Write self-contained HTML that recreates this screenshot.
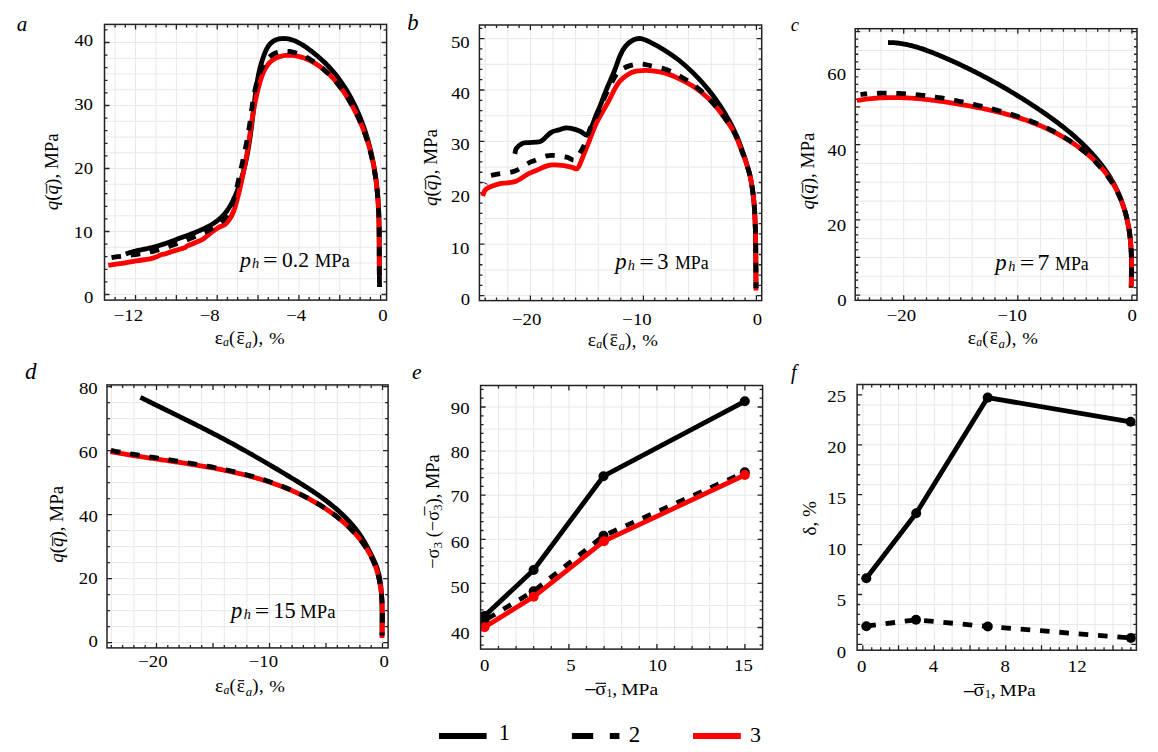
<!DOCTYPE html>
<html><head><meta charset="utf-8"><title>Figure</title><style>
html,body{margin:0;padding:0;background:#fff;}
svg{display:block;}
text{font-family:"Liberation Serif", "Times New Roman", serif;fill:#000;}
</style></head><body>
<svg width="1158" height="752" viewBox="0 0 1158 752">
<rect width="1158" height="752" fill="#fff"/>
<path d="M115.12 24.40V300.10M135.54 24.40V300.10M155.96 24.40V300.10M176.38 24.40V300.10M196.80 24.40V300.10M217.22 24.40V300.10M237.64 24.40V300.10M258.06 24.40V300.10M278.48 24.40V300.10M298.90 24.40V300.10M319.32 24.40V300.10M339.74 24.40V300.10M360.16 24.40V300.10M380.58 24.40V300.10M104.50 294.50H386.60M104.50 278.75H386.60M104.50 263.00H386.60M104.50 247.25H386.60M104.50 231.50H386.60M104.50 215.75H386.60M104.50 200.00H386.60M104.50 184.25H386.60M104.50 168.50H386.60M104.50 152.75H386.60M104.50 137.00H386.60M104.50 121.25H386.60M104.50 105.50H386.60M104.50 89.75H386.60M104.50 74.00H386.60M104.50 58.25H386.60M104.50 42.50H386.60M104.50 26.75H386.60" stroke="#e8e8e8" stroke-width="1" fill="none"/>
<path d="M115.12 300.10v-3.0M115.12 24.40v3.0M125.33 300.10v-3.0M125.33 24.40v3.0M135.54 300.10v-5.0M135.54 24.40v5.0M145.75 300.10v-3.0M145.75 24.40v3.0M155.96 300.10v-3.0M155.96 24.40v3.0M166.17 300.10v-3.0M166.17 24.40v3.0M176.38 300.10v-5.0M176.38 24.40v5.0M186.59 300.10v-3.0M186.59 24.40v3.0M196.80 300.10v-3.0M196.80 24.40v3.0M207.01 300.10v-3.0M207.01 24.40v3.0M217.22 300.10v-5.0M217.22 24.40v5.0M227.43 300.10v-3.0M227.43 24.40v3.0M237.64 300.10v-3.0M237.64 24.40v3.0M247.85 300.10v-3.0M247.85 24.40v3.0M258.06 300.10v-5.0M258.06 24.40v5.0M268.27 300.10v-3.0M268.27 24.40v3.0M278.48 300.10v-3.0M278.48 24.40v3.0M288.69 300.10v-3.0M288.69 24.40v3.0M298.90 300.10v-5.0M298.90 24.40v5.0M309.11 300.10v-3.0M309.11 24.40v3.0M319.32 300.10v-3.0M319.32 24.40v3.0M329.53 300.10v-3.0M329.53 24.40v3.0M339.74 300.10v-5.0M339.74 24.40v5.0M349.95 300.10v-3.0M349.95 24.40v3.0M360.16 300.10v-3.0M360.16 24.40v3.0M370.37 300.10v-3.0M370.37 24.40v3.0M380.58 300.10v-5.0M380.58 24.40v5.0M104.50 294.50h5.0M386.60 294.50h-5.0M104.50 281.90h3.0M386.60 281.90h-3.0M104.50 269.30h3.0M386.60 269.30h-3.0M104.50 256.70h3.0M386.60 256.70h-3.0M104.50 244.10h3.0M386.60 244.10h-3.0M104.50 231.50h5.0M386.60 231.50h-5.0M104.50 218.90h3.0M386.60 218.90h-3.0M104.50 206.30h3.0M386.60 206.30h-3.0M104.50 193.70h3.0M386.60 193.70h-3.0M104.50 181.10h3.0M386.60 181.10h-3.0M104.50 168.50h5.0M386.60 168.50h-5.0M104.50 155.90h3.0M386.60 155.90h-3.0M104.50 143.30h3.0M386.60 143.30h-3.0M104.50 130.70h3.0M386.60 130.70h-3.0M104.50 118.10h3.0M386.60 118.10h-3.0M104.50 105.50h5.0M386.60 105.50h-5.0M104.50 92.90h3.0M386.60 92.90h-3.0M104.50 80.30h3.0M386.60 80.30h-3.0M104.50 67.70h3.0M386.60 67.70h-3.0M104.50 55.10h3.0M386.60 55.10h-3.0M104.50 42.50h5.0M386.60 42.50h-5.0M104.50 29.90h3.0M386.60 29.90h-3.0" stroke="#222" stroke-width="1.3" fill="none"/>
<path d="M485.20 25.00V300.60M507.80 25.00V300.60M530.40 25.00V300.60M553.00 25.00V300.60M575.60 25.00V300.60M598.20 25.00V300.60M620.80 25.00V300.60M643.40 25.00V300.60M666.00 25.00V300.60M688.60 25.00V300.60M711.20 25.00V300.60M733.80 25.00V300.60M756.40 25.00V300.60M479.40 295.60H761.70M479.40 269.90H761.70M479.40 244.20H761.70M479.40 218.50H761.70M479.40 192.80H761.70M479.40 167.10H761.70M479.40 141.40H761.70M479.40 115.70H761.70M479.40 90.00H761.70M479.40 64.30H761.70M479.40 38.60H761.70" stroke="#e8e8e8" stroke-width="1" fill="none"/>
<path d="M485.20 300.60v-3.0M485.20 25.00v3.0M496.50 300.60v-3.0M496.50 25.00v3.0M507.80 300.60v-3.0M507.80 25.00v3.0M519.10 300.60v-3.0M519.10 25.00v3.0M530.40 300.60v-5.0M530.40 25.00v5.0M541.70 300.60v-3.0M541.70 25.00v3.0M553.00 300.60v-3.0M553.00 25.00v3.0M564.30 300.60v-3.0M564.30 25.00v3.0M575.60 300.60v-3.0M575.60 25.00v3.0M586.90 300.60v-3.0M586.90 25.00v3.0M598.20 300.60v-3.0M598.20 25.00v3.0M609.50 300.60v-3.0M609.50 25.00v3.0M620.80 300.60v-3.0M620.80 25.00v3.0M632.10 300.60v-3.0M632.10 25.00v3.0M643.40 300.60v-5.0M643.40 25.00v5.0M654.70 300.60v-3.0M654.70 25.00v3.0M666.00 300.60v-3.0M666.00 25.00v3.0M677.30 300.60v-3.0M677.30 25.00v3.0M688.60 300.60v-3.0M688.60 25.00v3.0M699.90 300.60v-3.0M699.90 25.00v3.0M711.20 300.60v-3.0M711.20 25.00v3.0M722.50 300.60v-3.0M722.50 25.00v3.0M733.80 300.60v-3.0M733.80 25.00v3.0M745.10 300.60v-3.0M745.10 25.00v3.0M756.40 300.60v-5.0M756.40 25.00v5.0M479.40 295.60h5.0M761.70 295.60h-5.0M479.40 285.32h3.0M761.70 285.32h-3.0M479.40 275.04h3.0M761.70 275.04h-3.0M479.40 264.76h3.0M761.70 264.76h-3.0M479.40 254.48h3.0M761.70 254.48h-3.0M479.40 244.20h5.0M761.70 244.20h-5.0M479.40 233.92h3.0M761.70 233.92h-3.0M479.40 223.64h3.0M761.70 223.64h-3.0M479.40 213.36h3.0M761.70 213.36h-3.0M479.40 203.08h3.0M761.70 203.08h-3.0M479.40 192.80h5.0M761.70 192.80h-5.0M479.40 182.52h3.0M761.70 182.52h-3.0M479.40 172.24h3.0M761.70 172.24h-3.0M479.40 161.96h3.0M761.70 161.96h-3.0M479.40 151.68h3.0M761.70 151.68h-3.0M479.40 141.40h5.0M761.70 141.40h-5.0M479.40 131.12h3.0M761.70 131.12h-3.0M479.40 120.84h3.0M761.70 120.84h-3.0M479.40 110.56h3.0M761.70 110.56h-3.0M479.40 100.28h3.0M761.70 100.28h-3.0M479.40 90.00h5.0M761.70 90.00h-5.0M479.40 79.72h3.0M761.70 79.72h-3.0M479.40 69.44h3.0M761.70 69.44h-3.0M479.40 59.16h3.0M761.70 59.16h-3.0M479.40 48.88h3.0M761.70 48.88h-3.0M479.40 38.60h5.0M761.70 38.60h-5.0M479.40 28.32h3.0M761.70 28.32h-3.0" stroke="#222" stroke-width="1.3" fill="none"/>
<path d="M858.06 28.70V300.30M880.88 28.70V300.30M903.70 28.70V300.30M926.52 28.70V300.30M949.34 28.70V300.30M972.16 28.70V300.30M994.98 28.70V300.30M1017.80 28.70V300.30M1040.62 28.70V300.30M1063.44 28.70V300.30M1086.26 28.70V300.30M1109.08 28.70V300.30M1131.90 28.70V300.30M855.20 295.10H1137.00M855.20 276.29H1137.00M855.20 257.47H1137.00M855.20 238.66H1137.00M855.20 219.84H1137.00M855.20 201.03H1137.00M855.20 182.21H1137.00M855.20 163.40H1137.00M855.20 144.58H1137.00M855.20 125.77H1137.00M855.20 106.95H1137.00M855.20 88.14H1137.00M855.20 69.32H1137.00M855.20 50.51H1137.00M855.20 31.69H1137.00" stroke="#e8e8e8" stroke-width="1" fill="none"/>
<path d="M858.06 300.30v-3.0M858.06 28.70v3.0M869.47 300.30v-3.0M869.47 28.70v3.0M880.88 300.30v-3.0M880.88 28.70v3.0M892.29 300.30v-3.0M892.29 28.70v3.0M903.70 300.30v-5.0M903.70 28.70v5.0M915.11 300.30v-3.0M915.11 28.70v3.0M926.52 300.30v-3.0M926.52 28.70v3.0M937.93 300.30v-3.0M937.93 28.70v3.0M949.34 300.30v-3.0M949.34 28.70v3.0M960.75 300.30v-3.0M960.75 28.70v3.0M972.16 300.30v-3.0M972.16 28.70v3.0M983.57 300.30v-3.0M983.57 28.70v3.0M994.98 300.30v-3.0M994.98 28.70v3.0M1006.39 300.30v-3.0M1006.39 28.70v3.0M1017.80 300.30v-5.0M1017.80 28.70v5.0M1029.21 300.30v-3.0M1029.21 28.70v3.0M1040.62 300.30v-3.0M1040.62 28.70v3.0M1052.03 300.30v-3.0M1052.03 28.70v3.0M1063.44 300.30v-3.0M1063.44 28.70v3.0M1074.85 300.30v-3.0M1074.85 28.70v3.0M1086.26 300.30v-3.0M1086.26 28.70v3.0M1097.67 300.30v-3.0M1097.67 28.70v3.0M1109.08 300.30v-3.0M1109.08 28.70v3.0M1120.49 300.30v-3.0M1120.49 28.70v3.0M1131.90 300.30v-5.0M1131.90 28.70v5.0M855.20 295.10h5.0M1137.00 295.10h-5.0M855.20 287.57h3.0M1137.00 287.57h-3.0M855.20 280.05h3.0M1137.00 280.05h-3.0M855.20 272.52h3.0M1137.00 272.52h-3.0M855.20 265.00h3.0M1137.00 265.00h-3.0M855.20 257.47h5.0M1137.00 257.47h-5.0M855.20 249.94h3.0M1137.00 249.94h-3.0M855.20 242.42h3.0M1137.00 242.42h-3.0M855.20 234.89h3.0M1137.00 234.89h-3.0M855.20 227.37h3.0M1137.00 227.37h-3.0M855.20 219.84h5.0M1137.00 219.84h-5.0M855.20 212.31h3.0M1137.00 212.31h-3.0M855.20 204.79h3.0M1137.00 204.79h-3.0M855.20 197.26h3.0M1137.00 197.26h-3.0M855.20 189.74h3.0M1137.00 189.74h-3.0M855.20 182.21h5.0M1137.00 182.21h-5.0M855.20 174.68h3.0M1137.00 174.68h-3.0M855.20 167.16h3.0M1137.00 167.16h-3.0M855.20 159.63h3.0M1137.00 159.63h-3.0M855.20 152.11h3.0M1137.00 152.11h-3.0M855.20 144.58h5.0M1137.00 144.58h-5.0M855.20 137.05h3.0M1137.00 137.05h-3.0M855.20 129.53h3.0M1137.00 129.53h-3.0M855.20 122.00h3.0M1137.00 122.00h-3.0M855.20 114.48h3.0M1137.00 114.48h-3.0M855.20 106.95h5.0M1137.00 106.95h-5.0M855.20 99.42h3.0M1137.00 99.42h-3.0M855.20 91.90h3.0M1137.00 91.90h-3.0M855.20 84.37h3.0M1137.00 84.37h-3.0M855.20 76.85h3.0M1137.00 76.85h-3.0M855.20 69.32h5.0M1137.00 69.32h-5.0M855.20 61.79h3.0M1137.00 61.79h-3.0M855.20 54.27h3.0M1137.00 54.27h-3.0M855.20 46.74h3.0M1137.00 46.74h-3.0M855.20 39.22h3.0M1137.00 39.22h-3.0M855.20 31.69h5.0M1137.00 31.69h-5.0" stroke="#222" stroke-width="1.3" fill="none"/>
<path d="M111.30 384.90V647.90M133.90 384.90V647.90M156.50 384.90V647.90M179.10 384.90V647.90M201.70 384.90V647.90M224.30 384.90V647.90M246.90 384.90V647.90M269.50 384.90V647.90M292.10 384.90V647.90M314.70 384.90V647.90M337.30 384.90V647.90M359.90 384.90V647.90M382.50 384.90V647.90M107.00 642.60H388.10M107.00 626.60H388.10M107.00 610.60H388.10M107.00 594.60H388.10M107.00 578.60H388.10M107.00 562.60H388.10M107.00 546.60H388.10M107.00 530.60H388.10M107.00 514.60H388.10M107.00 498.60H388.10M107.00 482.60H388.10M107.00 466.60H388.10M107.00 450.60H388.10M107.00 434.60H388.10M107.00 418.60H388.10M107.00 402.60H388.10M107.00 386.60H388.10" stroke="#e8e8e8" stroke-width="1" fill="none"/>
<path d="M111.30 647.90v-3.0M111.30 384.90v3.0M122.60 647.90v-3.0M122.60 384.90v3.0M133.90 647.90v-3.0M133.90 384.90v3.0M145.20 647.90v-3.0M145.20 384.90v3.0M156.50 647.90v-5.0M156.50 384.90v5.0M167.80 647.90v-3.0M167.80 384.90v3.0M179.10 647.90v-3.0M179.10 384.90v3.0M190.40 647.90v-3.0M190.40 384.90v3.0M201.70 647.90v-3.0M201.70 384.90v3.0M213.00 647.90v-5.0M213.00 384.90v5.0M224.30 647.90v-3.0M224.30 384.90v3.0M235.60 647.90v-3.0M235.60 384.90v3.0M246.90 647.90v-3.0M246.90 384.90v3.0M258.20 647.90v-3.0M258.20 384.90v3.0M269.50 647.90v-5.0M269.50 384.90v5.0M280.80 647.90v-3.0M280.80 384.90v3.0M292.10 647.90v-3.0M292.10 384.90v3.0M303.40 647.90v-3.0M303.40 384.90v3.0M314.70 647.90v-3.0M314.70 384.90v3.0M326.00 647.90v-5.0M326.00 384.90v5.0M337.30 647.90v-3.0M337.30 384.90v3.0M348.60 647.90v-3.0M348.60 384.90v3.0M359.90 647.90v-3.0M359.90 384.90v3.0M371.20 647.90v-3.0M371.20 384.90v3.0M382.50 647.90v-5.0M382.50 384.90v5.0M107.00 642.60h5.0M388.10 642.60h-5.0M107.00 626.60h3.0M388.10 626.60h-3.0M107.00 610.60h3.0M388.10 610.60h-3.0M107.00 594.60h3.0M388.10 594.60h-3.0M107.00 578.60h5.0M388.10 578.60h-5.0M107.00 562.60h3.0M388.10 562.60h-3.0M107.00 546.60h3.0M388.10 546.60h-3.0M107.00 530.60h3.0M388.10 530.60h-3.0M107.00 514.60h5.0M388.10 514.60h-5.0M107.00 498.60h3.0M388.10 498.60h-3.0M107.00 482.60h3.0M388.10 482.60h-3.0M107.00 466.60h3.0M388.10 466.60h-3.0M107.00 450.60h5.0M388.10 450.60h-5.0M107.00 434.60h3.0M388.10 434.60h-3.0M107.00 418.60h3.0M388.10 418.60h-3.0M107.00 402.60h3.0M388.10 402.60h-3.0M107.00 386.60h5.0M388.10 386.60h-5.0" stroke="#222" stroke-width="1.3" fill="none"/>
<path d="M498.50 385.50V649.10M516.10 385.50V649.10M533.70 385.50V649.10M551.30 385.50V649.10M568.90 385.50V649.10M586.50 385.50V649.10M604.10 385.50V649.10M621.70 385.50V649.10M639.30 385.50V649.10M656.90 385.50V649.10M674.50 385.50V649.10M692.10 385.50V649.10M709.70 385.50V649.10M727.30 385.50V649.10M744.90 385.50V649.10M480.60 627.50H762.60M480.60 605.45H762.60M480.60 583.40H762.60M480.60 561.35H762.60M480.60 539.30H762.60M480.60 517.25H762.60M480.60 495.20H762.60M480.60 473.15H762.60M480.60 451.10H762.60M480.60 429.05H762.60M480.60 407.00H762.60" stroke="#e8e8e8" stroke-width="1" fill="none"/>
<path d="M498.50 649.10v-3.0M498.50 385.50v3.0M516.10 649.10v-3.0M516.10 385.50v3.0M533.70 649.10v-3.0M533.70 385.50v3.0M551.30 649.10v-3.0M551.30 385.50v3.0M568.90 649.10v-5.0M568.90 385.50v5.0M586.50 649.10v-3.0M586.50 385.50v3.0M604.10 649.10v-3.0M604.10 385.50v3.0M621.70 649.10v-3.0M621.70 385.50v3.0M639.30 649.10v-3.0M639.30 385.50v3.0M656.90 649.10v-5.0M656.90 385.50v5.0M674.50 649.10v-3.0M674.50 385.50v3.0M692.10 649.10v-3.0M692.10 385.50v3.0M709.70 649.10v-3.0M709.70 385.50v3.0M727.30 649.10v-3.0M727.30 385.50v3.0M744.90 649.10v-5.0M744.90 385.50v5.0M480.60 645.14h3.0M762.60 645.14h-3.0M480.60 636.32h3.0M762.60 636.32h-3.0M480.60 627.50h5.0M762.60 627.50h-5.0M480.60 618.68h3.0M762.60 618.68h-3.0M480.60 609.86h3.0M762.60 609.86h-3.0M480.60 601.04h3.0M762.60 601.04h-3.0M480.60 592.22h3.0M762.60 592.22h-3.0M480.60 583.40h5.0M762.60 583.40h-5.0M480.60 574.58h3.0M762.60 574.58h-3.0M480.60 565.76h3.0M762.60 565.76h-3.0M480.60 556.94h3.0M762.60 556.94h-3.0M480.60 548.12h3.0M762.60 548.12h-3.0M480.60 539.30h5.0M762.60 539.30h-5.0M480.60 530.48h3.0M762.60 530.48h-3.0M480.60 521.66h3.0M762.60 521.66h-3.0M480.60 512.84h3.0M762.60 512.84h-3.0M480.60 504.02h3.0M762.60 504.02h-3.0M480.60 495.20h5.0M762.60 495.20h-5.0M480.60 486.38h3.0M762.60 486.38h-3.0M480.60 477.56h3.0M762.60 477.56h-3.0M480.60 468.74h3.0M762.60 468.74h-3.0M480.60 459.92h3.0M762.60 459.92h-3.0M480.60 451.10h5.0M762.60 451.10h-5.0M480.60 442.28h3.0M762.60 442.28h-3.0M480.60 433.46h3.0M762.60 433.46h-3.0M480.60 424.64h3.0M762.60 424.64h-3.0M480.60 415.82h3.0M762.60 415.82h-3.0M480.60 407.00h5.0M762.60 407.00h-5.0M480.60 398.18h3.0M762.60 398.18h-3.0M480.60 389.36h3.0M762.60 389.36h-3.0" stroke="#222" stroke-width="1.3" fill="none"/>
<path d="M862.80 384.50V650.20M880.67 384.50V650.20M898.54 384.50V650.20M916.41 384.50V650.20M934.28 384.50V650.20M952.15 384.50V650.20M970.02 384.50V650.20M987.89 384.50V650.20M1005.76 384.50V650.20M1023.63 384.50V650.20M1041.50 384.50V650.20M1059.37 384.50V650.20M1077.24 384.50V650.20M1095.11 384.50V650.20M1112.98 384.50V650.20M1130.85 384.50V650.20M857.10 644.40H1136.40M857.10 624.44H1136.40M857.10 604.48H1136.40M857.10 584.52H1136.40M857.10 564.56H1136.40M857.10 544.60H1136.40M857.10 524.64H1136.40M857.10 504.68H1136.40M857.10 484.72H1136.40M857.10 464.76H1136.40M857.10 444.80H1136.40M857.10 424.84H1136.40M857.10 404.88H1136.40" stroke="#e8e8e8" stroke-width="1" fill="none"/>
<path d="M862.80 650.20v-5.0M862.80 384.50v5.0M871.73 650.20v-3.0M871.73 384.50v3.0M880.67 650.20v-3.0M880.67 384.50v3.0M889.60 650.20v-3.0M889.60 384.50v3.0M898.54 650.20v-5.0M898.54 384.50v5.0M907.47 650.20v-3.0M907.47 384.50v3.0M916.41 650.20v-3.0M916.41 384.50v3.0M925.34 650.20v-3.0M925.34 384.50v3.0M934.28 650.20v-5.0M934.28 384.50v5.0M943.21 650.20v-3.0M943.21 384.50v3.0M952.15 650.20v-3.0M952.15 384.50v3.0M961.08 650.20v-3.0M961.08 384.50v3.0M970.02 650.20v-5.0M970.02 384.50v5.0M978.95 650.20v-3.0M978.95 384.50v3.0M987.89 650.20v-3.0M987.89 384.50v3.0M996.82 650.20v-3.0M996.82 384.50v3.0M1005.76 650.20v-5.0M1005.76 384.50v5.0M1014.69 650.20v-3.0M1014.69 384.50v3.0M1023.63 650.20v-3.0M1023.63 384.50v3.0M1032.57 650.20v-3.0M1032.57 384.50v3.0M1041.50 650.20v-5.0M1041.50 384.50v5.0M1050.43 650.20v-3.0M1050.43 384.50v3.0M1059.37 650.20v-3.0M1059.37 384.50v3.0M1068.31 650.20v-3.0M1068.31 384.50v3.0M1077.24 650.20v-5.0M1077.24 384.50v5.0M1086.17 650.20v-3.0M1086.17 384.50v3.0M1095.11 650.20v-3.0M1095.11 384.50v3.0M1104.05 650.20v-3.0M1104.05 384.50v3.0M1112.98 650.20v-5.0M1112.98 384.50v5.0M1121.91 650.20v-3.0M1121.91 384.50v3.0M1130.85 650.20v-3.0M1130.85 384.50v3.0M857.10 644.40h5.0M1136.40 644.40h-5.0M857.10 634.42h3.0M1136.40 634.42h-3.0M857.10 624.44h3.0M1136.40 624.44h-3.0M857.10 614.46h3.0M1136.40 614.46h-3.0M857.10 604.48h3.0M1136.40 604.48h-3.0M857.10 594.50h5.0M1136.40 594.50h-5.0M857.10 584.52h3.0M1136.40 584.52h-3.0M857.10 574.54h3.0M1136.40 574.54h-3.0M857.10 564.56h3.0M1136.40 564.56h-3.0M857.10 554.58h3.0M1136.40 554.58h-3.0M857.10 544.60h5.0M1136.40 544.60h-5.0M857.10 534.62h3.0M1136.40 534.62h-3.0M857.10 524.64h3.0M1136.40 524.64h-3.0M857.10 514.66h3.0M1136.40 514.66h-3.0M857.10 504.68h3.0M1136.40 504.68h-3.0M857.10 494.70h5.0M1136.40 494.70h-5.0M857.10 484.72h3.0M1136.40 484.72h-3.0M857.10 474.74h3.0M1136.40 474.74h-3.0M857.10 464.76h3.0M1136.40 464.76h-3.0M857.10 454.78h3.0M1136.40 454.78h-3.0M857.10 444.80h5.0M1136.40 444.80h-5.0M857.10 434.82h3.0M1136.40 434.82h-3.0M857.10 424.84h3.0M1136.40 424.84h-3.0M857.10 414.86h3.0M1136.40 414.86h-3.0M857.10 404.88h3.0M1136.40 404.88h-3.0M857.10 394.90h5.0M1136.40 394.90h-5.0" stroke="#222" stroke-width="1.3" fill="none"/>
<text transform="translate(74.50,45.95) scale(1.060,1)" font-size="17.70">40</text>
<text transform="translate(74.23,109.90) scale(1.060,1)" font-size="17.70">30</text>
<text transform="translate(74.26,174.10) scale(1.060,1)" font-size="17.70">20</text>
<text transform="translate(73.85,238.05) scale(1.060,1)" font-size="17.70">10</text>
<text transform="translate(83.91,302.95) scale(1.060,1)" font-size="17.70">0</text>
<text transform="translate(113.73,321.06) scale(1.060,1)" font-size="17.70">−12</text>
<text transform="translate(199.71,321.00) scale(1.060,1)" font-size="17.70">−8</text>
<text transform="translate(286.20,321.02) scale(1.060,1)" font-size="17.70">−4</text>
<text transform="translate(378.31,321.00) scale(1.060,1)" font-size="17.70">0</text>
<text transform="translate(450.88,47.95) scale(1.060,1)" font-size="17.70">50</text>
<text transform="translate(451.25,99.15) scale(1.060,1)" font-size="17.70">40</text>
<text transform="translate(450.98,150.35) scale(1.060,1)" font-size="17.70">30</text>
<text transform="translate(451.01,202.40) scale(1.060,1)" font-size="17.70">20</text>
<text transform="translate(450.60,253.70) scale(1.060,1)" font-size="17.70">10</text>
<text transform="translate(460.71,304.90) scale(1.060,1)" font-size="17.70">0</text>
<text transform="translate(512.02,324.50) scale(1.060,1)" font-size="17.70">−20</text>
<text transform="translate(622.37,324.50) scale(1.060,1)" font-size="17.70">−10</text>
<text transform="translate(752.86,324.50) scale(1.060,1)" font-size="17.70">0</text>
<text transform="translate(827.37,79.95) scale(1.060,1)" font-size="17.70">60</text>
<text transform="translate(827.60,155.80) scale(1.060,1)" font-size="17.70">40</text>
<text transform="translate(827.36,230.60) scale(1.060,1)" font-size="17.70">20</text>
<text transform="translate(837.16,305.80) scale(1.060,1)" font-size="17.70">0</text>
<text transform="translate(886.77,321.40) scale(1.060,1)" font-size="17.70">−20</text>
<text transform="translate(997.52,321.40) scale(1.060,1)" font-size="17.70">−10</text>
<text transform="translate(1127.56,321.40) scale(1.060,1)" font-size="17.70">0</text>
<text transform="translate(78.92,394.40) scale(1.060,1)" font-size="17.70">80</text>
<text transform="translate(78.87,457.70) scale(1.060,1)" font-size="17.70">60</text>
<text transform="translate(79.10,521.60) scale(1.060,1)" font-size="17.70">40</text>
<text transform="translate(78.86,584.35) scale(1.060,1)" font-size="17.70">20</text>
<text transform="translate(88.51,647.05) scale(1.060,1)" font-size="17.70">0</text>
<text transform="translate(138.22,667.40) scale(1.060,1)" font-size="17.70">−20</text>
<text transform="translate(248.72,667.40) scale(1.060,1)" font-size="17.70">−10</text>
<text transform="translate(379.46,667.40) scale(1.060,1)" font-size="17.70">0</text>
<text transform="translate(450.78,414.20) scale(1.060,1)" font-size="17.70">90</text>
<text transform="translate(450.72,457.80) scale(1.060,1)" font-size="17.70">80</text>
<text transform="translate(450.46,502.45) scale(1.060,1)" font-size="17.70">70</text>
<text transform="translate(450.67,547.80) scale(1.060,1)" font-size="17.70">60</text>
<text transform="translate(450.53,592.80) scale(1.060,1)" font-size="17.70">50</text>
<text transform="translate(450.90,638.60) scale(1.060,1)" font-size="17.70">40</text>
<text transform="translate(480.11,670.60) scale(1.060,1)" font-size="17.70">0</text>
<text transform="translate(566.18,670.51) scale(1.060,1)" font-size="17.70">5</text>
<text transform="translate(648.20,670.60) scale(1.060,1)" font-size="17.70">10</text>
<text transform="translate(734.11,670.55) scale(1.060,1)" font-size="17.70">15</text>
<text transform="translate(827.27,402.12) scale(1.060,1)" font-size="17.70">25</text>
<text transform="translate(827.26,453.20) scale(1.060,1)" font-size="17.70">20</text>
<text transform="translate(827.36,503.65) scale(1.060,1)" font-size="17.70">15</text>
<text transform="translate(827.35,555.20) scale(1.060,1)" font-size="17.70">10</text>
<text transform="translate(836.83,606.16) scale(1.060,1)" font-size="17.70">5</text>
<text transform="translate(836.81,657.60) scale(1.060,1)" font-size="17.70">0</text>
<text transform="translate(856.96,671.90) scale(1.060,1)" font-size="17.70">0</text>
<text transform="translate(928.83,671.92) scale(1.060,1)" font-size="17.70">4</text>
<text transform="translate(1000.61,671.90) scale(1.060,1)" font-size="17.70">8</text>
<text transform="translate(1067.81,671.96) scale(1.060,1)" font-size="17.70">12</text>
<clipPath id="ca"><rect x="104.50" y="24.40" width="282.10" height="275.70"/></clipPath>
<clipPath id="cb"><rect x="479.40" y="25.00" width="282.30" height="275.60"/></clipPath>
<clipPath id="cc"><rect x="855.20" y="28.70" width="281.80" height="271.60"/></clipPath>
<clipPath id="cd"><rect x="107.00" y="384.90" width="281.10" height="263.00"/></clipPath>
<clipPath id="ce"><rect x="480.60" y="385.50" width="282.00" height="263.60"/></clipPath>
<clipPath id="cf"><rect x="857.10" y="384.50" width="279.30" height="265.70"/></clipPath>
<path d="M125.76 254.09L127.09 253.57L128.45 253.08L129.83 252.63L131.24 252.20L132.67 251.80L134.12 251.41L135.58 251.05L137.06 250.70L138.55 250.37L140.05 250.05L141.55 249.73L143.06 249.42L144.57 249.11L146.08 248.80L147.59 248.48L149.09 248.16L150.59 247.82L152.07 247.48L153.54 247.12L154.99 246.74L156.43 246.34L157.86 245.93L159.28 245.51L160.69 245.07L162.09 244.62L163.49 244.15L164.88 243.68L166.26 243.20L167.64 242.70L169.03 242.21L170.41 241.70L171.79 241.19L173.18 240.67L174.57 240.15L175.96 239.63L177.36 239.11L178.77 238.58L180.19 238.06L181.62 237.53L183.05 237.01L184.50 236.48L185.94 235.96L187.40 235.42L188.85 234.89L190.31 234.34L191.76 233.79L193.21 233.23L194.66 232.67L196.11 232.09L197.55 231.50L198.98 230.90L200.41 230.28L201.82 229.65L203.22 229.01L204.61 228.35L205.99 227.67L207.34 226.97L208.69 226.25L210.01 225.51L211.31 224.75L212.59 223.96L213.85 223.15L215.09 222.32L216.30 221.45L217.48 220.57L218.63 219.65L219.76 218.70L220.85 217.72L221.91 216.71L222.94 215.67L223.93 214.59L224.88 213.49L225.81 212.35L226.70 211.18L227.57 209.99L228.40 208.77L229.21 207.53L229.99 206.26L230.74 204.98L231.47 203.67L232.18 202.35L232.86 201.00L233.52 199.65L234.16 198.28L234.78 196.90L235.38 195.51L235.96 194.11L236.53 192.70L237.08 191.28L237.62 189.86L238.15 188.44L238.66 187.02L239.16 185.59L239.65 184.16L240.12 182.72L240.59 181.29L241.04 179.85L241.48 178.40L241.91 176.96L242.32 175.51L242.73 174.06L243.13 172.61L243.51 171.15L243.89 169.70L244.25 168.24L244.61 166.77L244.96 165.31L245.30 163.84L245.62 162.37L245.95 160.90L246.26 159.43L246.56 157.96L246.86 156.48L247.15 155.01L247.43 153.53L247.70 152.05L247.97 150.56L248.23 149.08L248.49 147.60L248.74 146.11L248.98 144.62L249.21 143.13L249.45 141.65L249.67 140.15L249.89 138.66L250.11 137.17L250.32 135.68L250.53 134.18L250.73 132.69L250.93 131.19L251.13 129.70L251.32 128.20L251.51 126.70L251.70 125.21L251.89 123.71L252.07 122.21L252.25 120.71L252.43 119.22L252.61 117.72L252.78 116.22L252.96 114.72L253.13 113.22L253.31 111.73L253.48 110.23L253.65 108.73L253.83 107.24L254.00 105.74L254.18 104.24L254.35 102.75L254.53 101.25L254.71 99.76L254.89 98.27L255.07 96.78L255.25 95.28L255.44 93.79L255.64 92.30L255.83 90.82L256.04 89.33L256.25 87.84L256.47 86.36L256.69 84.87L256.93 83.39L257.17 81.91L257.42 80.43L257.68 78.95L257.96 77.47L258.25 76.00L258.54 74.52L258.86 73.05L259.18 71.58L259.52 70.11L259.88 68.64L260.25 67.17L260.64 65.70L261.04 64.24L261.47 62.78L261.91 61.32L262.37 59.86L262.85 58.40L263.36 56.95L263.88 55.49L264.43 54.04L265.00 52.61L265.61 51.19L266.26 49.80L266.96 48.46L267.70 47.16L268.51 45.93L269.38 44.76L270.32 43.67L271.33 42.67L272.43 41.77L273.62 40.97L274.89 40.29L276.25 39.73L277.68 39.28L279.15 38.94L280.65 38.70L282.16 38.56L283.66 38.51L285.14 38.56L286.62 38.69L288.08 38.90L289.52 39.19L290.96 39.55L292.38 39.98L293.78 40.48L295.18 41.03L296.56 41.64L297.92 42.30L299.28 43.01L300.62 43.76L301.94 44.55L303.26 45.37L304.56 46.22L305.84 47.09L307.12 47.99L308.38 48.90L309.62 49.82L310.86 50.75L312.08 51.69L313.29 52.63L314.48 53.58L315.66 54.54L316.83 55.50L317.98 56.48L319.12 57.46L320.25 58.45L321.37 59.45L322.47 60.46L323.56 61.48L324.64 62.51L325.70 63.55L326.75 64.60L327.79 65.66L328.82 66.74L329.83 67.83L330.83 68.93L331.82 70.04L332.80 71.16L333.76 72.30L334.71 73.44L335.65 74.60L336.58 75.77L337.49 76.95L338.39 78.14L339.28 79.35L340.16 80.56L341.03 81.78L341.88 83.01L342.73 84.25L343.56 85.50L344.38 86.76L345.18 88.03L345.98 89.31L346.77 90.59L347.54 91.89L348.30 93.19L349.05 94.50L349.79 95.81L350.52 97.13L351.24 98.46L351.95 99.80L352.64 101.15L353.33 102.49L354.00 103.85L354.67 105.21L355.32 106.58L355.96 107.95L356.59 109.33L357.22 110.71L357.83 112.10L358.43 113.49L359.02 114.88L359.60 116.28L360.17 117.69L360.73 119.09L361.28 120.50L361.82 121.91L362.35 123.33L362.87 124.75L363.38 126.17L363.88 127.59L364.38 129.02L364.86 130.44L365.33 131.87L365.79 133.31L366.25 134.74L366.69 136.18L367.13 137.62L367.56 139.06L367.97 140.51L368.38 141.95L368.78 143.40L369.17 144.85L369.55 146.30L369.93 147.76L370.29 149.22L370.65 150.67L371.00 152.14L371.33 153.60L371.67 155.06L371.99 156.53L372.30 158.00L372.61 159.46L372.91 160.94L373.20 162.41L373.48 163.88L373.75 165.36L374.02 166.84L374.28 168.31L374.53 169.79L374.77 171.28L375.01 172.76L375.24 174.24L375.46 175.73L375.67 177.21L375.88 178.70L376.08 180.19L376.27 181.68L376.45 183.17L376.63 184.66L376.80 186.16L376.97 187.65L377.12 189.15L377.27 190.64L377.42 192.14L377.56 193.64L377.69 195.13L377.81 196.63L377.93 198.13L378.04 199.63L378.15 201.13L378.24 202.63L378.34 204.14L378.43 205.64L378.51 207.14L378.58 208.64L378.66 210.15L378.72 211.65L378.78 213.16L378.84 214.66L378.89 216.17L378.94 217.67L378.99 219.18L379.03 220.68L379.06 222.19L379.10 223.70L379.13 225.21L379.15 226.71L379.17 228.22L379.20 229.73L379.21 231.24L379.23 232.75L379.24 234.25L379.25 235.76L379.26 237.27L379.27 238.78L379.27 240.29L379.28 241.80L379.28 243.31L379.28 244.82L379.28 246.32L379.28 247.83L379.28 249.34L379.28 250.85L379.28 252.36L379.28 253.87L379.28 255.38L379.28 256.89L379.28 258.39L379.28 259.90L379.28 261.41L379.28 262.92L379.29 264.43L379.29 265.93L379.30 267.44L379.31 268.95L379.32 270.45L379.33 271.96L379.35 273.46L379.37 274.97L379.39 276.48L379.41 277.98L379.44 279.48L379.47 280.99L379.50 282.49L379.54 283.99L379.58 285.50L379.62 287.00" stroke="#000" stroke-width="4.8" fill="none" stroke-linejoin="round" clip-path="url(#ca)"/>
<path d="M108.30 265.40C109.35 265.23 111.77 264.83 114.60 264.40C117.43 263.97 121.75 263.38 125.30 262.80C128.85 262.22 132.35 261.47 135.90 260.90C139.45 260.33 144.25 259.73 146.60 259.40C148.95 259.07 148.28 259.33 150.00 258.90C151.72 258.47 154.95 257.53 156.90 256.80C158.85 256.07 160.35 254.97 161.70 254.50C163.05 254.03 163.50 254.43 165.00 254.00C166.50 253.57 168.60 252.58 170.70 251.90C172.80 251.22 175.30 250.58 177.60 249.90C179.90 249.22 182.88 248.47 184.50 247.80C186.12 247.13 186.13 246.48 187.30 245.90C188.47 245.32 189.65 245.08 191.50 244.30C193.35 243.52 196.57 242.00 198.40 241.20C200.23 240.40 201.35 240.13 202.50 239.50C203.65 238.87 203.68 238.67 205.30 237.40C206.92 236.13 209.90 233.62 212.20 231.90C214.50 230.18 217.02 228.30 219.10 227.10C221.18 225.90 222.88 226.17 224.70 224.70C226.52 223.23 228.40 220.78 230.00 218.30C231.60 215.82 233.58 211.22 234.30 209.80" stroke="#f00" stroke-width="4.8" fill="none" stroke-linejoin="round" clip-path="url(#ca)"/>
<path d="M224.68 224.71L225.82 223.63L226.89 222.51L227.88 221.35L228.81 220.15L229.67 218.92L230.46 217.66L231.21 216.37L231.90 215.06L232.54 213.71L233.14 212.35L233.69 210.97L234.22 209.56L234.71 208.14L235.17 206.71L235.61 205.27L236.03 203.82L236.43 202.36L236.83 200.89L237.21 199.43L237.60 197.96L237.97 196.49L238.34 195.02L238.71 193.55L239.08 192.07L239.43 190.60L239.79 189.13L240.14 187.65L240.48 186.18L240.82 184.70L241.16 183.22L241.49 181.74L241.82 180.27L242.14 178.79L242.46 177.31L242.77 175.83L243.08 174.34L243.38 172.86L243.68 171.38L243.98 169.90L244.27 168.41L244.56 166.93L244.84 165.45L245.12 163.96L245.39 162.48L245.66 161.00L245.93 159.51L246.19 158.03L246.44 156.54L246.69 155.06L246.94 153.58L247.19 152.09L247.42 150.61L247.66 149.12L247.89 147.64L248.12 146.16L248.35 144.67L248.57 143.19L248.79 141.71L249.01 140.23L249.23 138.74L249.44 137.26L249.66 135.78L249.88 134.29L250.09 132.81L250.31 131.33L250.52 129.85L250.74 128.36L250.96 126.88L251.18 125.40L251.41 123.91L251.63 122.43L251.86 120.95L252.09 119.46L252.33 117.98L252.56 116.50L252.81 115.01L253.06 113.53L253.31 112.05L253.57 110.56L253.83 109.08L254.10 107.59L254.38 106.11L254.66 104.62L254.95 103.14L255.25 101.65L255.55 100.17L255.87 98.68L256.19 97.19L256.52 95.71L256.86 94.22L257.21 92.73L257.57 91.25L257.94 89.76L258.32 88.27L258.71 86.78L259.11 85.29L259.53 83.80L259.96 82.31L260.40 80.82L260.86 79.34L261.34 77.87L261.84 76.41L262.37 74.97L262.92 73.56L263.51 72.16L264.14 70.80L264.81 69.48L265.52 68.19L266.27 66.94L267.07 65.74L267.92 64.60L268.83 63.50L269.79 62.47L270.82 61.49L271.91 60.59L273.07 59.75L274.28 58.99L275.55 58.29L276.87 57.67L278.24 57.12L279.63 56.64L281.06 56.22L282.51 55.88L283.98 55.62L285.46 55.42L286.94 55.29L288.44 55.23L289.93 55.23L291.43 55.29L292.93 55.42L294.43 55.61L295.93 55.85L297.43 56.14L298.92 56.49L300.41 56.88L301.89 57.33L303.36 57.82L304.82 58.35L306.27 58.92L307.70 59.54L309.12 60.19L310.53 60.87L311.92 61.59L313.28 62.33L314.63 63.11L315.96 63.91L317.26 64.73L318.54 65.58L319.79 66.45L321.03 67.34L322.23 68.25L323.42 69.18L324.59 70.13L325.73 71.09L326.85 72.08L327.95 73.09L329.04 74.11L330.10 75.15L331.14 76.21L332.17 77.28L333.18 78.37L334.17 79.47L335.15 80.59L336.10 81.73L337.05 82.87L337.98 84.03L338.89 85.21L339.79 86.39L340.67 87.59L341.55 88.80L342.41 90.02L343.25 91.25L344.09 92.48L344.91 93.73L345.73 94.99L346.53 96.26L347.33 97.53L348.12 98.81L348.89 100.10L349.66 101.40L350.42 102.70L351.16 104.01L351.90 105.33L352.63 106.65L353.35 107.98L354.06 109.32L354.76 110.66L355.45 112.01L356.13 113.36L356.80 114.72L357.46 116.09L358.11 117.46L358.75 118.84L359.38 120.22L360.00 121.61L360.61 123.00L361.21 124.39L361.80 125.80L362.37 127.20L362.94 128.61L363.50 130.02L364.04 131.44L364.58 132.86L365.10 134.29L365.61 135.72L366.11 137.15L366.60 138.59L367.08 140.02L367.55 141.47L368.01 142.91L368.46 144.36L368.89 145.81L369.31 147.26L369.72 148.71L370.12 150.17L370.51 151.63L370.89 153.09L371.25 154.55L371.61 156.01L371.95 157.48L372.28 158.94L372.61 160.41L372.92 161.88L373.22 163.35L373.51 164.83L373.79 166.30L374.06 167.78L374.32 169.26L374.57 170.73L374.82 172.21L375.05 173.70L375.27 175.18L375.49 176.66L375.70 178.15L375.90 179.64L376.09 181.13L376.27 182.62L376.45 184.11L376.61 185.60L376.78 187.09L376.93 188.58L377.07 190.08L377.21 191.58L377.35 193.07L377.47 194.57L377.59 196.07L377.71 197.57L377.81 199.07L377.91 200.57L378.01 202.07L378.10 203.58L378.19 205.08L378.27 206.58L378.34 208.09L378.41 209.59L378.48 211.10L378.54 212.61L378.60 214.11L378.65 215.62L378.70 217.13L378.75 218.64L378.79 220.15L378.83 221.66L378.87 223.17L378.90 224.68L378.93 226.19L378.96 227.70L378.99 229.21L379.01 230.72L379.03 232.23L379.05 233.75L379.07 235.26L379.09 236.77L379.11 238.28L379.12 239.79L379.13 241.30L379.15 242.82L379.16 244.33L379.17 245.84L379.18 247.35L379.20 248.86L379.21 250.37L379.22 251.88L379.23 253.39L379.25 254.90L379.26 256.41L379.28 257.92L379.30 259.43L379.31 260.94L379.33 262.45L379.36 263.96L379.38 265.46L379.41 266.97L379.43 268.47L379.46 269.98L379.50 271.48L379.54 272.99L379.57 274.49L379.62 275.99" stroke="#f00" stroke-width="4.8" fill="none" stroke-linejoin="round" clip-path="url(#ca)"/>
<path d="M111.52 257.69L112.99 257.43L114.47 257.19L115.95 256.96L117.43 256.74L118.92 256.54L120.42 256.34L121.91 256.16L123.41 255.98L124.91 255.80L126.41 255.63L127.91 255.46L129.41 255.29L130.91 255.12L132.41 254.95L133.91 254.77L135.41 254.59L136.91 254.39L138.40 254.19L139.89 253.97L141.38 253.74L142.87 253.50L144.35 253.24L145.82 252.96L147.29 252.66L148.76 252.34L150.22 252.01L151.68 251.66L153.14 251.30L154.59 250.92L156.03 250.53L157.48 250.12L158.92 249.70L160.35 249.28L161.79 248.84L163.22 248.39L164.65 247.93L166.07 247.46L167.50 246.99L168.92 246.51L170.34 246.02L171.75 245.53L173.17 245.03L174.58 244.53L175.99 244.02L177.40 243.51L178.81 242.99L180.22 242.47L181.63 241.94L183.03 241.40L184.43 240.86L185.84 240.32L187.24 239.76L188.64 239.20L190.04 238.64L191.44 238.06L192.84 237.49L194.24 236.90L195.63 236.30L197.03 235.70L198.43 235.09L199.82 234.48L201.22 233.85L202.62 233.22L204.01 232.58L205.40 231.93L206.78 231.26L208.15 230.58L209.51 229.88L210.85 229.16L212.18 228.42L213.48 227.66L214.76 226.87L216.01 226.05L217.23 225.21L218.42 224.33L219.57 223.42L220.69 222.47L221.77 221.49L222.80 220.47L223.78 219.41L224.72 218.30L225.61 217.16L226.45 215.97L227.24 214.74L227.99 213.49L228.71 212.20L229.38 210.88L230.02 209.53L230.62 208.16L231.20 206.77L231.74 205.37L232.26 203.95L232.76 202.51L233.23 201.07L233.68 199.62L234.11 198.16L234.53 196.70L234.93 195.24L235.32 193.77L235.69 192.29L236.06 190.81L236.41 189.33L236.76 187.85L237.10 186.37L237.43 184.88L237.77 183.40L238.10 181.91L238.43 180.43L238.76 178.95L239.09 177.47L239.42 175.99L239.75 174.51L240.08 173.03L240.41 171.55L240.74 170.08L241.07 168.60L241.39 167.13L241.72 165.65L242.05 164.18L242.37 162.71L242.69 161.24L243.01 159.77L243.33 158.29L243.64 156.82L243.96 155.35L244.27 153.88L244.57 152.41L244.88 150.95L245.18 149.48L245.48 148.01L245.77 146.54L246.07 145.07L246.35 143.60L246.64 142.13L246.92 140.66L247.19 139.19L247.46 137.72L247.73 136.24L247.99 134.77L248.25 133.30L248.50 131.83L248.74 130.35L248.98 128.88L249.22 127.40L249.45 125.93L249.67 124.45L249.88 122.97L250.10 121.49L250.30 120.01L250.51 118.53L250.71 117.05L250.91 115.56L251.11 114.08L251.31 112.60L251.51 111.11L251.71 109.63L251.92 108.14L252.13 106.66L252.34 105.17L252.56 103.69L252.79 102.20L253.02 100.72L253.26 99.23L253.51 97.75L253.77 96.26L254.04 94.77L254.32 93.29L254.62 91.80L254.93 90.32L255.25 88.84L255.59 87.35L255.94 85.87L256.31 84.39L256.70 82.91L257.11 81.43L257.54 79.95L257.98 78.47L258.45 76.99L258.94 75.51L259.46 74.04L260.00 72.57L260.57 71.11L261.16 69.67L261.79 68.26L262.45 66.86L263.15 65.50L263.88 64.18L264.65 62.89L265.47 61.65L266.33 60.46L267.23 59.33L268.18 58.25L269.18 57.24L270.23 56.30L271.34 55.43L272.50 54.65L273.71 53.94L274.98 53.31L276.29 52.77L277.65 52.31L279.04 51.93L280.46 51.63L281.90 51.41L283.37 51.27L284.85 51.21L286.35 51.23L287.85 51.33L289.35 51.50L290.85 51.73L292.35 52.03L293.85 52.39L295.34 52.80L296.81 53.26L298.28 53.76L299.73 54.30L301.16 54.88L302.57 55.48L303.96 56.12L305.33 56.78L306.69 57.48L308.03 58.20L309.34 58.95L310.65 59.72L311.93 60.52L313.20 61.34L314.45 62.18L315.68 63.04L316.90 63.93L318.11 64.83L319.29 65.76L320.47 66.70L321.63 67.66L322.77 68.63L323.90 69.62L325.02 70.63L326.13 71.64L327.22 72.68L328.29 73.72L329.36 74.78L330.41 75.85L331.45 76.93L332.47 78.03L333.49 79.14L334.49 80.26L335.47 81.39L336.44 82.53L337.41 83.69L338.35 84.85L339.29 86.03L340.21 87.21L341.12 88.41L342.02 89.62L342.90 90.83L343.77 92.06L344.63 93.29L345.48 94.54L346.31 95.79L347.13 97.05L347.94 98.32L348.74 99.60L349.52 100.89L350.30 102.18L351.06 103.48L351.80 104.79L352.54 106.10L353.26 107.42L353.98 108.75L354.68 110.08L355.36 111.42L356.04 112.77L356.71 114.12L357.36 115.48L358.00 116.84L358.63 118.20L359.25 119.57L359.85 120.95L360.45 122.33L361.03 123.71L361.60 125.10L362.16 126.49L362.71 127.89L363.25 129.29L363.78 130.70L364.30 132.11L364.80 133.52L365.30 134.93L365.78 136.35L366.26 137.78L366.72 139.21L367.18 140.64L367.62 142.07L368.06 143.51L368.48 144.95L368.89 146.39L369.30 147.84L369.69 149.29L370.08 150.74L370.45 152.20L370.82 153.66L371.18 155.12L371.52 156.58L371.86 158.05L372.19 159.51L372.51 160.99L372.82 162.46L373.12 163.93L373.42 165.41L373.70 166.89L373.98 168.37L374.25 169.85L374.51 171.34L374.76 172.82L375.00 174.31L375.24 175.80L375.46 177.29L375.68 178.78L375.89 180.28L376.10 181.77L376.29 183.27L376.48 184.76L376.66 186.26L376.84 187.76L377.00 189.26L377.16 190.76L377.31 192.26L377.46 193.76L377.60 195.26L377.73 196.76L377.85 198.26L377.97 199.76L378.08 201.27L378.19 202.77L378.28 204.27L378.38 205.77L378.46 207.28L378.55 208.78L378.62 210.28L378.69 211.78L378.76 213.29L378.82 214.79L378.87 216.29L378.92 217.80L378.97 219.30L379.01 220.80L379.05 222.30L379.09 223.81L379.12 225.31L379.15 226.81L379.17 228.32L379.19 229.82L379.21 231.33L379.23 232.83L379.24 234.33L379.25 235.84L379.26 237.34L379.27 238.85L379.28 240.35L379.28 241.85L379.28 243.36L379.29 244.86L379.29 246.37L379.29 247.87L379.29 249.37L379.28 250.88L379.28 252.38L379.28 253.89L379.28 255.39L379.28 256.90L379.28 258.40L379.28 259.91L379.28 261.41L379.28 262.92L379.29 264.42L379.29 265.93L379.30 267.43L379.31 268.94L379.32 270.44L379.33 271.95L379.35 273.45L379.37 274.96L379.39 276.46L379.41 277.97L379.44 279.47L379.47 280.98L379.50 282.48L379.54 283.99L379.58 285.50L379.62 287.00" stroke="#000" stroke-width="4.8" fill="none" stroke-dasharray="9.6 9.8" stroke-dashoffset="0" clip-path="url(#ca)"/>
<path d="M514.90 153.90C515.12 153.02 515.08 150.27 516.20 148.60C517.32 146.93 519.82 144.90 521.60 143.90C523.38 142.90 524.03 142.93 526.90 142.60C529.77 142.27 536.15 142.35 538.80 141.90C541.45 141.45 540.80 141.45 542.80 139.90C544.80 138.35 548.13 134.27 550.80 132.60C553.47 130.93 556.37 130.67 558.80 129.90C561.23 129.13 563.18 128.22 565.40 128.00C567.62 127.78 569.65 128.05 572.10 128.60C574.55 129.15 577.45 130.18 580.10 131.30C582.75 132.42 586.02 136.18 588.00 135.30C589.98 134.42 590.67 129.33 592.00 126.00C593.33 122.67 594.68 118.57 596.00 115.30C597.32 112.03 598.13 110.75 599.90 106.40C601.67 102.05 604.15 95.18 606.60 89.20C609.05 83.22 612.38 76.05 614.60 70.50C616.82 64.95 618.13 59.88 619.90 55.90C621.67 51.92 622.98 49.25 625.20 46.60C627.42 43.95 630.53 41.33 633.20 40.00C635.87 38.67 638.40 38.23 641.20 38.60C644.00 38.97 646.10 40.27 650.00 42.20C653.90 44.13 659.72 47.15 664.60 50.20C669.48 53.25 674.42 56.60 679.30 60.50C684.18 64.40 689.03 68.73 693.90 73.60C698.77 78.47 704.12 84.33 708.50 89.70C712.88 95.07 716.78 100.67 720.20 105.80C723.62 110.93 726.32 115.62 729.00 120.50C731.68 125.38 734.23 130.48 736.30 135.10C738.37 139.72 739.87 144.05 741.40 148.20C742.93 152.35 743.97 154.98 745.50 160.00C747.03 165.02 749.18 171.22 750.60 178.30C752.02 185.38 753.20 193.85 754.00 202.50C754.80 211.15 755.10 220.98 755.40 230.20C755.70 239.42 755.70 248.12 755.80 257.80C755.90 267.48 755.97 283.22 756.00 288.30" stroke="#000" stroke-width="4.8" fill="none" stroke-linejoin="round" clip-path="url(#cb)"/>
<path d="M482.70 196.00C483.00 195.17 483.78 192.25 484.50 191.00C485.22 189.75 485.92 189.25 487.00 188.50C488.08 187.75 489.00 187.28 491.00 186.50C493.00 185.72 496.33 184.42 499.00 183.80C501.67 183.18 504.35 183.17 507.00 182.80C509.65 182.43 512.92 182.10 514.90 181.60C516.88 181.10 516.68 181.10 518.90 179.80C521.12 178.50 525.32 175.35 528.20 173.80C531.08 172.25 533.10 171.82 536.20 170.50C539.30 169.18 543.92 166.85 546.80 165.90C549.68 164.95 550.62 164.85 553.50 164.80C556.38 164.75 561.00 165.17 564.10 165.60C567.20 166.03 569.88 166.92 572.10 167.40C574.32 167.88 575.85 169.65 577.40 168.50C578.95 167.35 579.40 165.15 581.40 160.50C583.40 155.85 586.97 146.68 589.40 140.60C591.83 134.52 593.80 128.80 596.00 124.00C598.20 119.20 600.38 115.83 602.60 111.80C604.82 107.77 607.30 103.57 609.30 99.80C611.30 96.03 612.83 92.30 614.60 89.20C616.37 86.10 617.68 83.65 619.90 81.20C622.12 78.75 625.23 76.17 627.90 74.50C630.57 72.83 633.25 71.87 635.90 71.20C638.55 70.53 641.45 70.58 643.80 70.50C646.15 70.42 646.53 70.30 650.00 70.70C653.47 71.10 659.72 71.55 664.60 72.90C669.48 74.25 674.42 76.48 679.30 78.80C684.18 81.12 689.03 83.52 693.90 86.80C698.77 90.08 704.35 94.60 708.50 98.50C712.65 102.40 715.63 106.30 718.80 110.20C721.97 114.10 724.83 118.00 727.50 121.90C730.17 125.80 732.60 129.22 734.80 133.60C737.00 137.98 738.97 143.80 740.70 148.20C742.43 152.60 743.55 154.98 745.20 160.00C746.85 165.02 749.13 171.22 750.60 178.30C752.07 185.38 753.20 193.85 754.00 202.50C754.80 211.15 755.10 220.98 755.40 230.20C755.70 239.42 755.70 247.75 755.80 257.80C755.90 267.85 755.97 285.05 756.00 290.50" stroke="#f00" stroke-width="4.8" fill="none" stroke-linejoin="round" clip-path="url(#cb)"/>
<path d="M491.00 175.40C492.33 175.13 495.47 174.40 499.00 173.80C502.53 173.20 509.10 172.47 512.20 171.80C515.30 171.13 514.72 171.35 517.60 169.80C520.48 168.25 526.62 164.05 529.50 162.50C532.38 160.95 532.02 161.60 534.90 160.50C537.78 159.40 543.48 156.73 546.80 155.90C550.12 155.07 551.47 155.28 554.80 155.50C558.13 155.72 563.48 156.47 566.80 157.20C570.12 157.93 572.48 160.67 574.70 159.90C576.92 159.13 578.53 155.05 580.10 152.60C581.67 150.15 582.33 149.42 584.10 145.20C585.87 140.98 588.50 132.43 590.70 127.30C592.90 122.17 594.87 119.65 597.30 114.40C599.73 109.15 602.42 102.00 605.30 95.80C608.18 89.60 612.17 81.42 614.60 77.20C617.03 72.98 617.47 72.38 619.90 70.50C622.33 68.62 625.88 67.00 629.20 65.90C632.52 64.80 636.33 63.95 639.80 63.90C643.27 63.85 645.37 64.58 650.00 65.60C654.63 66.62 661.87 67.80 667.60 70.00C673.33 72.20 679.05 75.52 684.40 78.80C689.75 82.08 695.20 85.93 699.70 89.70C704.20 93.47 708.22 97.98 711.40 101.40C714.58 104.82 716.12 106.78 718.80 110.20C721.48 113.62 724.83 118.00 727.50 121.90C730.17 125.80 732.60 129.22 734.80 133.60C737.00 137.98 738.97 143.80 740.70 148.20C742.43 152.60 743.55 154.98 745.20 160.00C746.85 165.02 749.13 171.22 750.60 178.30C752.07 185.38 753.20 193.85 754.00 202.50C754.80 211.15 755.10 220.98 755.40 230.20C755.70 239.42 755.70 248.12 755.80 257.80C755.90 267.48 755.97 283.22 756.00 288.30" stroke="#000" stroke-width="4.8" fill="none" stroke-dasharray="9.6 9.8" stroke-dashoffset="0" clip-path="url(#cb)"/>
<path d="M887.99 42.51L889.48 42.53L890.98 42.57L892.46 42.63L893.95 42.73L895.43 42.85L896.91 42.99L898.39 43.16L899.87 43.36L901.34 43.57L902.81 43.81L904.27 44.07L905.74 44.35L907.20 44.66L908.65 44.98L910.11 45.32L911.56 45.68L913.01 46.05L914.46 46.45L915.90 46.86L917.34 47.29L918.78 47.73L920.22 48.18L921.65 48.65L923.08 49.13L924.51 49.63L925.93 50.14L927.35 50.66L928.77 51.18L930.19 51.72L931.61 52.27L933.02 52.83L934.43 53.39L935.83 53.96L937.24 54.54L938.64 55.12L940.04 55.71L941.43 56.30L942.83 56.90L944.22 57.50L945.61 58.10L947.00 58.70L948.38 59.31L949.76 59.93L951.14 60.54L952.52 61.16L953.89 61.78L955.26 62.41L956.63 63.04L958.00 63.67L959.37 64.30L960.73 64.94L962.09 65.58L963.45 66.23L964.80 66.88L966.16 67.53L967.51 68.18L968.86 68.84L970.21 69.50L971.55 70.17L972.90 70.84L974.24 71.51L975.58 72.18L976.92 72.86L978.25 73.54L979.59 74.23L980.92 74.92L982.25 75.61L983.57 76.31L984.90 77.01L986.23 77.71L987.55 78.42L988.87 79.13L990.19 79.84L991.50 80.55L992.82 81.28L994.13 82.00L995.45 82.73L996.76 83.46L998.06 84.19L999.37 84.93L1000.68 85.67L1001.98 86.42L1003.28 87.16L1004.58 87.92L1005.88 88.67L1007.18 89.43L1008.48 90.19L1009.77 90.96L1011.07 91.73L1012.36 92.51L1013.65 93.28L1014.94 94.06L1016.23 94.85L1017.52 95.64L1018.80 96.43L1020.09 97.23L1021.37 98.03L1022.65 98.83L1023.93 99.64L1025.21 100.45L1026.49 101.26L1027.77 102.08L1029.04 102.90L1030.32 103.73L1031.59 104.56L1032.87 105.39L1034.14 106.23L1035.41 107.07L1036.68 107.92L1037.95 108.77L1039.21 109.62L1040.48 110.48L1041.74 111.34L1043.00 112.20L1044.26 113.07L1045.52 113.95L1046.77 114.83L1048.02 115.71L1049.27 116.60L1050.52 117.49L1051.76 118.39L1053.00 119.29L1054.23 120.20L1055.46 121.11L1056.69 122.02L1057.91 122.95L1059.13 123.87L1060.34 124.80L1061.55 125.74L1062.75 126.68L1063.95 127.63L1065.14 128.58L1066.33 129.54L1067.51 130.51L1068.69 131.48L1069.86 132.45L1071.03 133.43L1072.18 134.42L1073.34 135.41L1074.48 136.41L1075.62 137.41L1076.75 138.43L1077.87 139.44L1078.99 140.46L1080.10 141.49L1081.20 142.53L1082.29 143.57L1083.38 144.62L1084.45 145.67L1085.52 146.74L1086.58 147.80L1087.63 148.88L1088.68 149.96L1089.71 151.05L1090.73 152.14L1091.75 153.25L1092.75 154.35L1093.74 155.47L1094.73 156.59L1095.70 157.73L1096.67 158.86L1097.62 160.01L1098.56 161.16L1099.50 162.32L1100.42 163.49L1101.33 164.66L1102.22 165.85L1103.11 167.04L1103.99 168.24L1104.85 169.44L1105.70 170.66L1106.54 171.88L1107.36 173.11L1108.18 174.35L1108.98 175.60L1109.76 176.85L1110.54 178.12L1111.30 179.39L1112.05 180.67L1112.78 181.96L1113.50 183.26L1114.21 184.56L1114.90 185.88L1115.58 187.20L1116.24 188.53L1116.89 189.88L1117.52 191.23L1118.14 192.58L1118.74 193.95L1119.33 195.33L1119.91 196.71L1120.47 198.10L1121.01 199.49L1121.54 200.90L1122.06 202.31L1122.56 203.73L1123.05 205.15L1123.52 206.58L1123.98 208.01L1124.42 209.46L1124.85 210.90L1125.27 212.36L1125.67 213.81L1126.06 215.28L1126.43 216.74L1126.79 218.21L1127.13 219.69L1127.46 221.17L1127.77 222.65L1128.07 224.14L1128.36 225.63L1128.63 227.13L1128.89 228.62L1129.13 230.12L1129.36 231.62L1129.57 233.13L1129.77 234.63L1129.96 236.14L1130.13 237.65L1130.29 239.16L1130.43 240.68L1130.56 242.19L1130.69 243.71L1130.79 245.22L1130.89 246.74L1130.98 248.26L1131.06 249.78L1131.12 251.29L1131.18 252.81L1131.23 254.33L1131.28 255.85L1131.31 257.37L1131.34 258.89L1131.36 260.41L1131.38 261.92L1131.39 263.44L1131.39 264.96L1131.39 266.47L1131.39 267.98L1131.38 269.50L1131.37 271.01L1131.36 272.52L1131.35 274.02L1131.33 275.53L1131.32 277.03L1131.30 278.53L1131.28 280.03L1131.27 281.53L1131.26 283.02L1131.24 284.51L1131.23 286.00L1131.23 287.48" stroke="#000" stroke-width="4.8" fill="none" stroke-linejoin="round" clip-path="url(#cc)"/>
<path d="M856.87 100.50L858.38 100.25L859.88 100.01L861.38 99.78L862.89 99.57L864.39 99.36L865.89 99.17L867.39 98.99L868.89 98.82L870.39 98.67L871.89 98.52L873.39 98.38L874.89 98.26L876.39 98.15L877.89 98.04L879.38 97.95L880.88 97.87L882.38 97.79L883.87 97.73L885.37 97.68L886.87 97.64L888.36 97.60L889.86 97.58L891.35 97.56L892.85 97.56L894.34 97.56L895.83 97.57L897.33 97.59L898.82 97.62L900.31 97.65L901.81 97.70L903.30 97.75L904.79 97.81L906.29 97.88L907.78 97.96L909.27 98.04L910.76 98.13L912.25 98.23L913.75 98.33L915.24 98.45L916.73 98.57L918.22 98.69L919.71 98.82L921.20 98.96L922.69 99.10L924.19 99.26L925.68 99.41L927.17 99.57L928.66 99.74L930.15 99.91L931.64 100.09L933.13 100.28L934.63 100.46L936.12 100.66L937.61 100.85L939.10 101.06L940.59 101.26L942.08 101.48L943.58 101.69L945.07 101.91L946.56 102.13L948.05 102.36L949.55 102.59L951.04 102.83L952.53 103.06L954.03 103.30L955.52 103.55L957.01 103.79L958.51 104.04L960.00 104.29L961.50 104.55L962.99 104.80L964.49 105.06L965.98 105.33L967.48 105.59L968.97 105.86L970.47 106.14L971.96 106.41L973.45 106.69L974.95 106.98L976.44 107.27L977.93 107.56L979.42 107.86L980.92 108.16L982.41 108.46L983.89 108.77L985.38 109.09L986.87 109.41L988.36 109.73L989.84 110.06L991.33 110.40L992.81 110.74L994.29 111.08L995.77 111.44L997.25 111.79L998.72 112.16L1000.20 112.53L1001.67 112.90L1003.15 113.28L1004.62 113.67L1006.08 114.06L1007.55 114.47L1009.01 114.87L1010.48 115.29L1011.93 115.71L1013.39 116.14L1014.85 116.58L1016.30 117.02L1017.75 117.47L1019.20 117.93L1020.64 118.40L1022.08 118.87L1023.52 119.35L1024.96 119.84L1026.40 120.34L1027.83 120.85L1029.25 121.37L1030.68 121.89L1032.10 122.42L1033.52 122.97L1034.93 123.52L1036.34 124.08L1037.75 124.65L1039.16 125.23L1040.56 125.82L1041.96 126.41L1043.35 127.02L1044.74 127.64L1046.13 128.27L1047.51 128.91L1048.88 129.56L1050.26 130.22L1051.63 130.89L1052.99 131.57L1054.35 132.26L1055.71 132.96L1057.06 133.67L1058.40 134.39L1059.74 135.12L1061.07 135.87L1062.40 136.62L1063.72 137.39L1065.03 138.16L1066.34 138.95L1067.64 139.74L1068.93 140.55L1070.21 141.36L1071.49 142.19L1072.75 143.03L1074.01 143.88L1075.26 144.74L1076.50 145.61L1077.74 146.49L1078.96 147.38L1080.17 148.28L1081.38 149.19L1082.57 150.11L1083.75 151.05L1084.93 151.99L1086.09 152.95L1087.24 153.91L1088.38 154.89L1089.51 155.88L1090.62 156.87L1091.73 157.88L1092.82 158.90L1093.90 159.93L1094.97 160.97L1096.02 162.02L1097.06 163.08L1098.09 164.16L1099.10 165.24L1100.10 166.33L1101.09 167.44L1102.06 168.55L1103.02 169.68L1103.96 170.82L1104.89 171.97L1105.80 173.13L1106.70 174.30L1107.58 175.48L1108.44 176.67L1109.29 177.87L1110.12 179.08L1110.93 180.31L1111.73 181.54L1112.51 182.79L1113.28 184.04L1114.02 185.31L1114.75 186.59L1115.46 187.88L1116.15 189.18L1116.82 190.49L1117.48 191.81L1118.11 193.14L1118.73 194.49L1119.33 195.84L1119.92 197.20L1120.49 198.57L1121.04 199.95L1121.57 201.33L1122.09 202.73L1122.59 204.13L1123.08 205.54L1123.55 206.96L1124.00 208.39L1124.44 209.82L1124.86 211.27L1125.27 212.71L1125.67 214.17L1126.05 215.63L1126.41 217.09L1126.76 218.57L1127.10 220.04L1127.42 221.53L1127.73 223.01L1128.03 224.50L1128.31 226.00L1128.58 227.50L1128.83 229.01L1129.08 230.51L1129.31 232.02L1129.53 233.54L1129.74 235.06L1129.93 236.58L1130.12 238.10L1130.29 239.62L1130.45 241.15L1130.61 242.68L1130.75 244.21L1130.88 245.74L1131.00 247.27L1131.10 248.80L1131.20 250.34L1131.29 251.87L1131.37 253.40L1131.44 254.93L1131.51 256.46L1131.56 258.00L1131.60 259.52L1131.64 261.05L1131.66 262.58L1131.68 264.10L1131.69 265.63L1131.70 267.15L1131.69 268.67L1131.68 270.18L1131.66 271.69L1131.64 273.20L1131.60 274.70L1131.57 276.21L1131.52 277.70L1131.47 279.19L1131.41 280.68L1131.35 282.17L1131.28 283.64L1131.21 285.11L1131.13 286.58" stroke="#f00" stroke-width="4.8" fill="none" stroke-linejoin="round" clip-path="url(#cc)"/>
<path d="M860.46 94.42L861.99 94.27L863.53 94.14L865.06 94.01L866.60 93.89L868.13 93.78L869.65 93.68L871.18 93.59L872.70 93.51L874.22 93.44L875.74 93.37L877.26 93.32L878.78 93.27L880.29 93.23L881.81 93.20L883.32 93.18L884.83 93.17L886.33 93.16L887.84 93.16L889.34 93.18L890.85 93.19L892.35 93.22L893.85 93.25L895.35 93.30L896.84 93.35L898.34 93.40L899.83 93.47L901.33 93.54L902.82 93.62L904.31 93.71L905.80 93.80L907.29 93.90L908.78 94.01L910.26 94.12L911.75 94.24L913.23 94.37L914.72 94.51L916.20 94.65L917.68 94.80L919.16 94.95L920.64 95.11L922.12 95.28L923.60 95.45L925.08 95.63L926.55 95.82L928.03 96.01L929.51 96.21L930.98 96.41L932.46 96.62L933.93 96.83L935.41 97.05L936.88 97.28L938.35 97.51L939.83 97.74L941.30 97.98L942.77 98.23L944.25 98.48L945.72 98.74L947.19 99.00L948.66 99.27L950.13 99.54L951.61 99.81L953.08 100.09L954.55 100.38L956.02 100.67L957.49 100.96L958.97 101.26L960.44 101.56L961.91 101.86L963.39 102.17L964.86 102.49L966.33 102.80L967.81 103.13L969.28 103.45L970.76 103.78L972.23 104.11L973.71 104.45L975.18 104.79L976.66 105.13L978.14 105.48L979.62 105.82L981.10 106.18L982.58 106.53L984.06 106.89L985.54 107.25L987.02 107.62L988.49 107.99L989.97 108.37L991.45 108.75L992.93 109.13L994.41 109.52L995.89 109.91L997.36 110.31L998.84 110.71L1000.31 111.12L1001.79 111.53L1003.26 111.95L1004.73 112.38L1006.20 112.81L1007.66 113.24L1009.13 113.68L1010.59 114.13L1012.05 114.58L1013.51 115.04L1014.97 115.51L1016.42 115.98L1017.87 116.46L1019.32 116.95L1020.77 117.44L1022.21 117.94L1023.65 118.45L1025.09 118.96L1026.52 119.48L1027.95 120.01L1029.38 120.55L1030.80 121.10L1032.22 121.65L1033.64 122.21L1035.05 122.78L1036.46 123.36L1037.86 123.95L1039.26 124.54L1040.65 125.15L1042.04 125.76L1043.42 126.38L1044.80 127.01L1046.18 127.65L1047.55 128.30L1048.91 128.96L1050.27 129.63L1051.62 130.31L1052.97 131.00L1054.31 131.70L1055.65 132.41L1056.98 133.13L1058.30 133.86L1059.62 134.60L1060.93 135.36L1062.24 136.12L1063.54 136.89L1064.83 137.68L1066.11 138.48L1067.39 139.28L1068.66 140.10L1069.92 140.93L1071.18 141.77L1072.43 142.63L1073.67 143.49L1074.90 144.36L1076.12 145.25L1077.33 146.14L1078.54 147.05L1079.73 147.96L1080.92 148.89L1082.10 149.83L1083.26 150.78L1084.42 151.74L1085.57 152.71L1086.71 153.69L1087.83 154.68L1088.95 155.68L1090.05 156.69L1091.15 157.71L1092.23 158.75L1093.30 159.79L1094.36 160.84L1095.41 161.90L1096.44 162.98L1097.47 164.06L1098.48 165.15L1099.48 166.25L1100.46 167.37L1101.43 168.49L1102.39 169.62L1103.34 170.76L1104.27 171.92L1105.19 173.08L1106.09 174.25L1106.98 175.43L1107.86 176.62L1108.72 177.82L1109.57 179.03L1110.40 180.25L1111.21 181.48L1112.02 182.72L1112.80 183.97L1113.57 185.23L1114.32 186.49L1115.06 187.77L1115.78 189.05L1116.49 190.35L1117.17 191.65L1117.84 192.96L1118.50 194.29L1119.13 195.62L1119.75 196.96L1120.35 198.31L1120.93 199.66L1121.50 201.03L1122.04 202.41L1122.57 203.79L1123.08 205.18L1123.57 206.58L1124.04 207.99L1124.50 209.41L1124.93 210.84L1125.35 212.27L1125.76 213.71L1126.14 215.16L1126.51 216.61L1126.87 218.07L1127.21 219.54L1127.53 221.01L1127.84 222.48L1128.13 223.97L1128.41 225.45L1128.67 226.95L1128.93 228.44L1129.16 229.94L1129.39 231.45L1129.60 232.96L1129.80 234.47L1129.98 235.98L1130.16 237.50L1130.32 239.02L1130.47 240.55L1130.61 242.07L1130.74 243.60L1130.86 245.13L1130.97 246.66L1131.06 248.19L1131.15 249.72L1131.23 251.25L1131.30 252.79L1131.37 254.32L1131.42 255.85L1131.46 257.38L1131.50 258.91L1131.53 260.44L1131.56 261.97L1131.57 263.50L1131.58 265.02L1131.59 266.55L1131.58 268.07L1131.58 269.58L1131.56 271.10L1131.54 272.61L1131.52 274.12L1131.49 275.62L1131.46 277.12L1131.43 278.62L1131.39 280.11L1131.35 281.60L1131.30 283.08L1131.25 284.56L1131.20 286.03L1131.15 287.49" stroke="#000" stroke-width="4.8" fill="none" stroke-dasharray="9.6 9.8" stroke-dashoffset="2.9" clip-path="url(#cc)"/>
<path d="M140.41 397.28L141.76 397.96L143.11 398.63L144.46 399.30L145.81 399.97L147.16 400.64L148.51 401.31L149.86 401.98L151.21 402.64L152.57 403.31L153.92 403.98L155.27 404.65L156.62 405.31L157.98 405.98L159.33 406.64L160.68 407.31L162.04 407.98L163.39 408.64L164.75 409.31L166.10 409.97L167.45 410.64L168.81 411.30L170.16 411.97L171.52 412.64L172.87 413.30L174.22 413.97L175.58 414.63L176.93 415.30L178.28 415.97L179.64 416.64L180.99 417.31L182.34 417.97L183.70 418.64L185.05 419.31L186.40 419.98L187.75 420.65L189.10 421.33L190.45 422.00L191.80 422.67L193.15 423.35L194.50 424.02L195.85 424.70L197.20 425.38L198.55 426.05L199.90 426.73L201.24 427.41L202.59 428.09L203.93 428.78L205.28 429.46L206.62 430.15L207.96 430.83L209.31 431.52L210.65 432.21L211.99 432.90L213.33 433.59L214.67 434.29L216.01 434.98L217.34 435.68L218.68 436.38L220.01 437.08L221.35 437.78L222.68 438.49L224.01 439.19L225.34 439.90L226.67 440.61L228.00 441.32L229.33 442.04L230.65 442.75L231.98 443.47L233.30 444.19L234.63 444.91L235.95 445.64L237.27 446.36L238.59 447.09L239.91 447.82L241.22 448.55L242.54 449.28L243.85 450.02L245.17 450.75L246.48 451.49L247.79 452.23L249.11 452.98L250.42 453.72L251.73 454.46L253.03 455.21L254.34 455.96L255.65 456.71L256.96 457.46L258.26 458.21L259.57 458.97L260.87 459.72L262.17 460.48L263.48 461.24L264.78 462.00L266.08 462.76L267.38 463.52L268.68 464.28L269.98 465.05L271.28 465.81L272.58 466.58L273.88 467.35L275.17 468.12L276.47 468.89L277.77 469.66L279.06 470.43L280.36 471.21L281.66 471.98L282.95 472.76L284.25 473.53L285.54 474.31L286.83 475.09L288.13 475.87L289.42 476.64L290.71 477.43L292.01 478.21L293.30 478.99L294.59 479.78L295.88 480.56L297.17 481.35L298.45 482.14L299.74 482.94L301.02 483.74L302.30 484.54L303.58 485.34L304.85 486.15L306.13 486.96L307.40 487.77L308.66 488.59L309.93 489.42L311.19 490.25L312.44 491.08L313.70 491.92L314.95 492.77L316.19 493.62L317.43 494.47L318.67 495.33L319.90 496.20L321.13 497.08L322.35 497.96L323.57 498.85L324.78 499.75L325.98 500.65L327.18 501.57L328.38 502.49L329.56 503.42L330.75 504.35L331.92 505.30L333.09 506.25L334.25 507.22L335.40 508.19L336.55 509.17L337.68 510.17L338.81 511.17L339.93 512.18L341.04 513.20L342.14 514.23L343.22 515.27L344.30 516.32L345.37 517.38L346.43 518.45L347.47 519.54L348.50 520.63L349.53 521.73L350.53 522.85L351.53 523.98L352.51 525.11L353.48 526.26L354.43 527.42L355.37 528.60L356.30 529.78L357.21 530.98L358.10 532.18L358.98 533.40L359.84 534.64L360.69 535.88L361.51 537.14L362.33 538.41L363.12 539.70L363.90 540.99L364.66 542.30L365.41 543.62L366.15 544.94L366.87 546.27L367.58 547.61L368.29 548.96L368.98 550.31L369.67 551.67L370.36 553.03L371.04 554.39L371.71 555.75L372.38 557.11L373.04 558.48L373.69 559.85L374.32 561.22L374.93 562.60L375.52 563.99L376.07 565.39L376.60 566.79L377.09 568.21L377.55 569.63L377.97 571.06L378.37 572.50L378.74 573.95L379.08 575.40L379.40 576.87L379.69 578.33L379.95 579.81L380.20 581.29L380.42 582.77L380.62 584.26L380.80 585.75L380.96 587.25L381.11 588.75L381.24 590.25L381.35 591.76L381.45 593.26L381.54 594.77L381.62 596.28L381.69 597.78L381.75 599.29L381.80 600.80L381.84 602.31L381.87 603.82L381.90 605.33L381.92 606.84L381.93 608.35L381.94 609.86L381.95 611.37L381.96 612.88L381.96 614.38L381.96 615.89L381.96 617.40L381.95 618.91L381.95 620.42L381.95 621.93L381.95 623.44L381.96 624.95L381.96 626.46L381.97 627.96L381.99 629.47L382.01 630.98L382.03 632.49L382.07 633.99L382.10 635.50" stroke="#000" stroke-width="4.8" fill="none" stroke-linejoin="round" clip-path="url(#cd)"/>
<path d="M110.43 451.60L111.86 451.86L113.30 452.13L114.73 452.39L116.17 452.65L117.61 452.91L119.05 453.16L120.50 453.41L121.94 453.66L123.39 453.91L124.85 454.15L126.30 454.40L127.76 454.64L129.21 454.87L130.67 455.11L132.14 455.35L133.60 455.58L135.07 455.81L136.53 456.04L138.00 456.27L139.47 456.50L140.95 456.72L142.42 456.95L143.90 457.17L145.38 457.39L146.86 457.61L148.34 457.84L149.82 458.06L151.30 458.28L152.79 458.50L154.27 458.71L155.76 458.93L157.25 459.15L158.74 459.37L160.23 459.59L161.72 459.81L163.21 460.03L164.70 460.25L166.20 460.47L167.69 460.68L169.19 460.91L170.68 461.13L172.18 461.35L173.68 461.57L175.18 461.79L176.67 462.02L178.17 462.24L179.67 462.47L181.17 462.70L182.67 462.93L184.17 463.16L185.67 463.39L187.17 463.63L188.67 463.86L190.17 464.10L191.68 464.34L193.18 464.58L194.68 464.82L196.18 465.07L197.68 465.32L199.18 465.57L200.68 465.82L202.18 466.08L203.67 466.34L205.17 466.60L206.67 466.86L208.17 467.13L209.66 467.40L211.16 467.67L212.66 467.95L214.15 468.23L215.64 468.51L217.14 468.80L218.63 469.09L220.12 469.38L221.61 469.68L223.10 469.98L224.59 470.29L226.07 470.59L227.56 470.91L229.04 471.23L230.53 471.55L232.01 471.88L233.49 472.21L234.97 472.54L236.44 472.88L237.92 473.23L239.39 473.58L240.87 473.93L242.34 474.29L243.81 474.66L245.27 475.03L246.74 475.41L248.20 475.79L249.66 476.18L251.12 476.57L252.58 476.97L254.04 477.37L255.49 477.78L256.94 478.20L258.39 478.62L259.84 479.05L261.28 479.49L262.72 479.93L264.16 480.37L265.60 480.83L267.03 481.29L268.47 481.76L269.90 482.23L271.32 482.71L272.75 483.20L274.17 483.70L275.58 484.20L277.00 484.71L278.41 485.23L279.82 485.75L281.23 486.29L282.63 486.83L284.03 487.38L285.43 487.93L286.82 488.50L288.21 489.07L289.60 489.65L290.98 490.24L292.36 490.83L293.74 491.44L295.11 492.05L296.48 492.68L297.85 493.31L299.21 493.95L300.57 494.59L301.92 495.25L303.27 495.92L304.62 496.60L305.96 497.28L307.30 497.98L308.64 498.68L309.97 499.39L311.30 500.12L312.62 500.85L313.94 501.59L315.25 502.34L316.56 503.11L317.87 503.88L319.17 504.66L320.46 505.46L321.76 506.26L323.04 507.07L324.32 507.90L325.59 508.73L326.86 509.57L328.12 510.43L329.37 511.29L330.62 512.17L331.85 513.05L333.08 513.94L334.30 514.85L335.52 515.77L336.72 516.69L337.91 517.63L339.10 518.57L340.27 519.53L341.44 520.50L342.59 521.47L343.73 522.46L344.86 523.46L345.98 524.47L347.09 525.48L348.18 526.51L349.27 527.55L350.34 528.60L351.39 529.66L352.44 530.73L353.47 531.81L354.48 532.90L355.48 534.00L356.47 535.11L357.44 536.24L358.40 537.37L359.34 538.51L360.26 539.67L361.17 540.83L362.06 542.00L362.93 543.19L363.79 544.38L364.63 545.59L365.45 546.81L366.25 548.03L367.04 549.27L367.80 550.52L368.55 551.78L369.27 553.05L369.98 554.32L370.67 555.61L371.33 556.91L371.98 558.23L372.60 559.55L373.21 560.88L373.79 562.22L374.35 563.58L374.89 564.94L375.40 566.32L375.89 567.70L376.36 569.10L376.81 570.50L377.23 571.92L377.64 573.34L378.03 574.77L378.39 576.21L378.74 577.66L379.06 579.12L379.37 580.58L379.66 582.05L379.93 583.53L380.19 585.01L380.43 586.50L380.65 588.00L380.86 589.50L381.05 591.00L381.23 592.51L381.39 594.02L381.54 595.54L381.68 597.06L381.80 598.58L381.91 600.11L382.01 601.63L382.10 603.16L382.17 604.69L382.24 606.22L382.30 607.76L382.34 609.29L382.38 610.82L382.41 612.36L382.43 613.89L382.44 615.42L382.45 616.95L382.45 618.48L382.44 620.00L382.43 621.53L382.41 623.05L382.38 624.56L382.36 626.08L382.32 627.59L382.29 629.09L382.25 630.59L382.21 632.09L382.17 633.58L382.12 635.07L382.08 636.54L382.03 638.02" stroke="#f00" stroke-width="4.8" fill="none" stroke-linejoin="round" clip-path="url(#cd)"/>
<path d="M110.99 450.46L112.42 450.73L113.86 450.99L115.30 451.26L116.74 451.52L118.18 451.78L119.63 452.03L121.08 452.29L122.53 452.54L123.98 452.79L125.44 453.03L126.89 453.28L128.35 453.52L129.81 453.76L131.28 454.00L132.74 454.24L134.21 454.48L135.68 454.71L137.15 454.95L138.62 455.18L140.09 455.41L141.57 455.64L143.04 455.87L144.52 456.10L146.00 456.33L147.48 456.55L148.96 456.78L150.45 457.01L151.93 457.23L153.42 457.46L154.91 457.68L156.39 457.91L157.88 458.13L159.37 458.36L160.86 458.58L162.36 458.81L163.85 459.03L165.34 459.26L166.84 459.49L168.33 459.71L169.83 459.94L171.32 460.17L172.82 460.40L174.32 460.63L175.81 460.86L177.31 461.09L178.81 461.33L180.31 461.56L181.81 461.80L183.31 462.03L184.81 462.27L186.31 462.52L187.81 462.76L189.31 463.00L190.81 463.25L192.31 463.50L193.81 463.75L195.31 464.00L196.81 464.26L198.30 464.51L199.80 464.77L201.30 465.04L202.80 465.30L204.30 465.57L205.79 465.84L207.29 466.12L208.78 466.39L210.28 466.67L211.77 466.96L213.27 467.24L214.76 467.53L216.25 467.83L217.74 468.12L219.23 468.42L220.72 468.73L222.21 469.04L223.70 469.35L225.18 469.66L226.67 469.98L228.15 470.31L229.63 470.64L231.11 470.97L232.59 471.31L234.07 471.65L235.54 472.00L237.02 472.35L238.49 472.71L239.96 473.07L241.43 473.43L242.90 473.80L244.37 474.18L245.83 474.56L247.30 474.95L248.76 475.34L250.22 475.74L251.67 476.15L253.13 476.56L254.58 476.97L256.03 477.39L257.48 477.82L258.92 478.25L260.37 478.69L261.81 479.14L263.25 479.59L264.68 480.05L266.12 480.52L267.55 480.99L268.98 481.47L270.40 481.95L271.83 482.45L273.25 482.94L274.67 483.45L276.08 483.97L277.49 484.49L278.90 485.02L280.31 485.55L281.71 486.09L283.11 486.65L284.51 487.20L285.90 487.77L287.29 488.35L288.68 488.93L290.06 489.52L291.44 490.12L292.82 490.73L294.19 491.34L295.56 491.97L296.93 492.60L298.29 493.24L299.65 493.89L301.01 494.55L302.36 495.22L303.71 495.89L305.05 496.58L306.39 497.27L307.73 497.98L309.06 498.69L310.39 499.41L311.71 500.15L313.03 500.89L314.35 501.64L315.66 502.40L316.96 503.17L318.27 503.95L319.56 504.75L320.86 505.55L322.14 506.36L323.43 507.18L324.70 508.01L325.97 508.85L327.24 509.71L328.49 510.57L329.74 511.44L330.98 512.32L332.22 513.22L333.44 514.12L334.66 515.03L335.87 515.95L337.07 516.89L338.26 517.83L339.44 518.78L340.61 519.75L341.77 520.72L342.92 521.70L344.06 522.70L345.18 523.70L346.30 524.72L347.40 525.74L348.49 526.77L349.57 527.82L350.64 528.88L351.69 529.94L352.73 531.02L353.75 532.10L354.76 533.20L355.76 534.31L356.74 535.43L357.71 536.55L358.66 537.69L359.60 538.84L360.51 540.00L361.42 541.17L362.30 542.35L363.17 543.54L364.03 544.74L364.86 545.95L365.68 547.17L366.47 548.40L367.25 549.65L368.01 550.90L368.76 552.16L369.48 553.44L370.18 554.72L370.86 556.01L371.52 557.32L372.16 558.64L372.78 559.96L373.38 561.30L373.96 562.65L374.51 564.01L375.04 565.37L375.55 566.75L376.04 568.14L376.51 569.54L376.95 570.95L377.37 572.37L377.77 573.80L378.15 575.24L378.51 576.68L378.86 578.13L379.18 579.59L379.48 581.06L379.77 582.53L380.04 584.01L380.29 585.50L380.53 586.99L380.75 588.49L380.95 589.99L381.14 591.49L381.31 593.01L381.47 594.52L381.62 596.04L381.75 597.56L381.87 599.08L381.97 600.61L382.07 602.14L382.15 603.67L382.22 605.20L382.29 606.73L382.34 608.26L382.38 609.79L382.41 611.33L382.43 612.86L382.45 614.39L382.45 615.92L382.45 617.45L382.44 618.97L382.43 620.50L382.41 622.02L382.38 623.53L382.35 625.05L382.31 626.56L382.27 628.07L382.23 629.57L382.18 631.06L382.13 632.56L382.08 634.04L382.02 635.52" stroke="#000" stroke-width="4.8" fill="none" stroke-dasharray="9.6 9.8" stroke-dashoffset="0" clip-path="url(#cd)"/>
<path d="M484.50 616.00L533.60 570.00L603.50 476.20L744.80 401.30" stroke="#000" stroke-width="4.8" fill="none" stroke-linejoin="round" clip-path="url(#ce)"/>
<circle cx="484.50" cy="616.00" r="5.0" fill="#000" clip-path="url(#ce)"/>
<circle cx="533.60" cy="570.00" r="5.0" fill="#000" clip-path="url(#ce)"/>
<circle cx="603.50" cy="476.20" r="5.0" fill="#000" clip-path="url(#ce)"/>
<circle cx="744.80" cy="401.30" r="5.0" fill="#000" clip-path="url(#ce)"/>
<path d="M484.50 620.50L533.60 591.20L603.50 535.80L744.80 472.30" stroke="#000" stroke-width="4.8" fill="none" stroke-dasharray="9 9.6" stroke-dashoffset="15.3" clip-path="url(#ce)"/>
<circle cx="484.50" cy="620.50" r="5.0" fill="#000" clip-path="url(#ce)"/>
<circle cx="533.60" cy="591.20" r="5.0" fill="#000" clip-path="url(#ce)"/>
<circle cx="603.50" cy="535.80" r="5.0" fill="#000" clip-path="url(#ce)"/>
<circle cx="744.80" cy="472.30" r="5.0" fill="#000" clip-path="url(#ce)"/>
<path d="M484.50 627.20L533.60 596.80L604.00 541.20L744.80 475.00" stroke="#f00" stroke-width="4.8" fill="none" stroke-linejoin="round" clip-path="url(#ce)"/>
<circle cx="484.50" cy="627.20" r="5.0" fill="#f00" clip-path="url(#ce)"/>
<circle cx="533.60" cy="596.80" r="5.0" fill="#f00" clip-path="url(#ce)"/>
<circle cx="604.00" cy="541.20" r="5.0" fill="#f00" clip-path="url(#ce)"/>
<circle cx="744.80" cy="475.00" r="5.0" fill="#f00" clip-path="url(#ce)"/>
<path d="M866.30 578.20L916.20 513.30L987.70 397.60L1130.60 421.80" stroke="#000" stroke-width="4.8" fill="none" stroke-linejoin="round" clip-path="url(#cf)"/>
<circle cx="866.30" cy="578.20" r="5.0" fill="#000" clip-path="url(#cf)"/>
<circle cx="916.20" cy="513.30" r="5.0" fill="#000" clip-path="url(#cf)"/>
<circle cx="987.70" cy="397.60" r="5.0" fill="#000" clip-path="url(#cf)"/>
<circle cx="1130.60" cy="421.80" r="5.0" fill="#000" clip-path="url(#cf)"/>
<path d="M866.30 626.20L916.00 619.80L987.80 626.50L1130.90 638.00" stroke="#000" stroke-width="4.8" fill="none" stroke-dasharray="9.6 9.8" stroke-dashoffset="0" clip-path="url(#cf)"/>
<circle cx="866.30" cy="626.20" r="5.0" fill="#000" clip-path="url(#cf)"/>
<circle cx="916.00" cy="619.80" r="5.0" fill="#000" clip-path="url(#cf)"/>
<circle cx="987.80" cy="626.50" r="5.0" fill="#000" clip-path="url(#cf)"/>
<circle cx="1130.90" cy="638.00" r="5.0" fill="#000" clip-path="url(#cf)"/>
<path d="M480.2 182.7Q483.5 181.6 487.6 184.3" stroke="#111" stroke-width="0.9" fill="none"/>
<rect x="104.50" y="24.40" width="282.10" height="275.70" stroke="#222" stroke-width="1.5" fill="none"/>
<rect x="479.40" y="25.00" width="282.30" height="275.60" stroke="#222" stroke-width="1.5" fill="none"/>
<rect x="855.20" y="28.70" width="281.80" height="271.60" stroke="#222" stroke-width="1.5" fill="none"/>
<rect x="107.00" y="384.90" width="281.10" height="263.00" stroke="#222" stroke-width="1.5" fill="none"/>
<rect x="480.60" y="385.50" width="282.00" height="263.60" stroke="#222" stroke-width="1.5" fill="none"/>
<rect x="857.10" y="384.50" width="279.30" height="265.70" stroke="#222" stroke-width="1.5" fill="none"/>
<text transform="translate(214.66,344.01) scale(1.056,1)" font-size="18.50">ε</text>
<text x="223.03" y="345.78" font-size="11.85" font-style="italic">a</text>
<text x="229.00" y="343.98" font-size="18.85">(</text>
<text transform="translate(236.47,344.01) scale(1.041,1)" font-size="18.50">ε</text>
<path d="M237.60 332.60h6.20" stroke="#000" stroke-width="1.1"/>
<text x="245.28" y="347.87" font-size="12.89" font-style="italic">a</text>
<text x="251.77" y="343.98" font-size="18.85">)</text>
<text x="258.50" y="344.32" font-size="18.68">,</text>
<text transform="translate(268.96,343.99) scale(1.139,1)" font-size="16.52">%</text>
<text transform="translate(587.86,346.31) scale(1.056,1)" font-size="18.50">ε</text>
<text x="596.23" y="348.08" font-size="11.85" font-style="italic">a</text>
<text x="602.20" y="346.28" font-size="18.85">(</text>
<text transform="translate(609.67,346.31) scale(1.041,1)" font-size="18.50">ε</text>
<path d="M610.80 334.90h6.20" stroke="#000" stroke-width="1.1"/>
<text x="618.48" y="350.17" font-size="12.89" font-style="italic">a</text>
<text x="624.97" y="346.28" font-size="18.85">)</text>
<text x="631.70" y="346.62" font-size="18.68">,</text>
<text transform="translate(642.16,346.29) scale(1.139,1)" font-size="16.52">%</text>
<text transform="translate(967.86,344.21) scale(1.056,1)" font-size="18.50">ε</text>
<text x="976.23" y="345.98" font-size="11.85" font-style="italic">a</text>
<text x="982.20" y="344.18" font-size="18.85">(</text>
<text transform="translate(989.67,344.21) scale(1.041,1)" font-size="18.50">ε</text>
<path d="M990.80 332.80h6.20" stroke="#000" stroke-width="1.1"/>
<text x="998.48" y="348.07" font-size="12.89" font-style="italic">a</text>
<text x="1004.97" y="344.18" font-size="18.85">)</text>
<text x="1011.70" y="344.52" font-size="18.68">,</text>
<text transform="translate(1022.16,344.19) scale(1.139,1)" font-size="16.52">%</text>
<text transform="translate(215.06,692.11) scale(1.056,1)" font-size="18.50">ε</text>
<text x="223.43" y="693.88" font-size="11.85" font-style="italic">a</text>
<text x="229.40" y="692.08" font-size="18.85">(</text>
<text transform="translate(236.87,692.11) scale(1.041,1)" font-size="18.50">ε</text>
<path d="M238.00 680.70h6.20" stroke="#000" stroke-width="1.1"/>
<text x="245.68" y="695.97" font-size="12.89" font-style="italic">a</text>
<text x="252.17" y="692.08" font-size="18.85">)</text>
<text x="258.90" y="692.42" font-size="18.68">,</text>
<text transform="translate(269.36,692.09) scale(1.139,1)" font-size="16.52">%</text>
<text x="584.31" y="697.31" font-size="21.72">−</text>
<text transform="translate(595.14,694.82) scale(1.120,1)" font-size="17.82">σ</text>
<path d="M595.50 683.30h10.50" stroke="#000" stroke-width="1.1"/>
<text x="606.53" y="697.00" font-size="11.82">1</text>
<text x="612.27" y="694.74" font-size="19.84">,</text>
<text transform="translate(621.23,694.83) scale(1.118,1)" font-size="17.44">MPa</text>
<text x="962.71" y="698.51" font-size="21.72">−</text>
<text transform="translate(973.54,696.02) scale(1.120,1)" font-size="17.82">σ</text>
<path d="M973.90 684.50h10.50" stroke="#000" stroke-width="1.1"/>
<text x="984.93" y="698.20" font-size="11.82">1</text>
<text x="990.67" y="695.94" font-size="19.84">,</text>
<text transform="translate(999.75,695.83) scale(1.090,1)" font-size="17.44">MPa</text>
<text transform="translate(57.70,210.20) rotate(-90)" font-size="18.3" textLength="77.0" lengthAdjust="spacingAndGlyphs"><tspan font-style="italic">q</tspan>(<tspan font-style="italic">q̅</tspan>), MPa</text>
<text transform="translate(436.50,206.00) rotate(-90)" font-size="18.3" textLength="77.0" lengthAdjust="spacingAndGlyphs"><tspan font-style="italic">q</tspan>(<tspan font-style="italic">q̅</tspan>), MPa</text>
<text transform="translate(814.10,209.60) rotate(-90)" font-size="18.3" textLength="77.0" lengthAdjust="spacingAndGlyphs"><tspan font-style="italic">q</tspan>(<tspan font-style="italic">q̅</tspan>), MPa</text>
<text transform="translate(63.40,562.80) rotate(-90)" font-size="18.3" textLength="77.0" lengthAdjust="spacingAndGlyphs"><tspan font-style="italic">q</tspan>(<tspan font-style="italic">q̅</tspan>), MPa</text>
<text transform="translate(439.10,568.80) rotate(-90)" font-size="18.7" textLength="114.5" lengthAdjust="spacingAndGlyphs">−σ<tspan font-size="13.5" dy="3">3</tspan><tspan dy="-3"> (</tspan>−σ̅<tspan font-size="13.5" dy="3">3</tspan><tspan dy="-3">), MPa</tspan></text>
<text transform="translate(815.70,535.50) rotate(-90)" font-size="18.7" textLength="34.6" lengthAdjust="spacingAndGlyphs">δ, %</text>
<text x="16.73" y="30.69" font-size="21.00" font-style="italic">a</text>
<text x="407.37" y="30.47" font-size="22.59" font-style="italic">b</text>
<text x="790.81" y="30.51" font-size="18.71" font-style="italic">c</text>
<text x="24.94" y="378.87" font-size="23.15" font-style="italic">d</text>
<text x="412.06" y="379.08" font-size="21.62" font-style="italic">e</text>
<text x="790.92" y="379.25" font-size="19.96" font-style="italic">f</text>
<text x="240.09" y="267.13" font-size="21.93" font-style="italic">p</text>
<text x="251.97" y="268.00" font-size="14.27" font-style="italic">h</text>
<text transform="translate(263.11,266.74) scale(1.290,1)" font-size="20.00">=</text>
<text x="282.09" y="266.60" font-size="21.50">0.2</text>
<text x="314.65" y="266.71" font-size="18.65">MPa</text>
<text x="615.29" y="269.17" font-size="22.66" font-style="italic">p</text>
<text x="627.77" y="269.70" font-size="14.27" font-style="italic">h</text>
<text transform="translate(639.31,269.04) scale(1.290,1)" font-size="20.00">=</text>
<text x="657.23" y="269.18" font-size="22.47">3</text>
<text x="674.91" y="268.62" font-size="17.89">MPa</text>
<text x="995.34" y="270.17" font-size="22.66" font-style="italic">p</text>
<text x="1008.17" y="270.70" font-size="14.27" font-style="italic">h</text>
<text transform="translate(1019.71,270.04) scale(1.290,1)" font-size="20.00">=</text>
<text x="1037.41" y="270.40" font-size="23.82">7</text>
<text x="1055.01" y="269.72" font-size="17.89">MPa</text>
<text x="230.92" y="618.20" font-size="22.51" font-style="italic">p</text>
<text x="243.67" y="618.80" font-size="14.27" font-style="italic">h</text>
<text transform="translate(254.71,618.04) scale(1.290,1)" font-size="20.00">=</text>
<text x="273.31" y="617.78" font-size="22.39">15</text>
<text x="300.01" y="617.81" font-size="18.80">MPa</text>
<path d="M439 736H486.6" stroke="#000" stroke-width="5.8"/>
<path d="M571.9 736H593.2M609.8 736H619.4" stroke="#000" stroke-width="5.8"/>
<path d="M693 735.9H740.8" stroke="#f00" stroke-width="6"/>
<text x="498.78" y="740.00" font-size="22.42">1</text>
<text x="628.84" y="742.10" font-size="22.96">2</text>
<text x="749.93" y="741.88" font-size="21.88">3</text>
</svg>
</body></html>
